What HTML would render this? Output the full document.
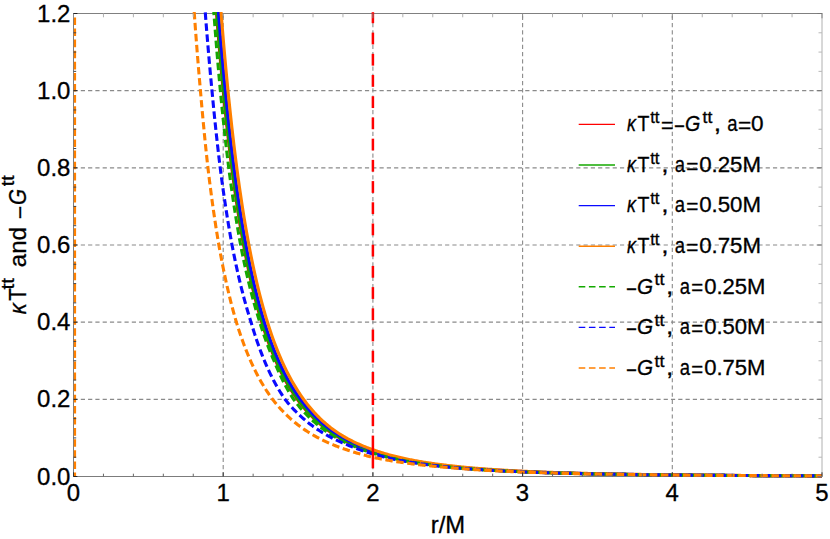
<!DOCTYPE html>
<html><head><meta charset="utf-8"><title>plot</title>
<style>html,body{margin:0;padding:0;background:#fff;}svg{display:block;}text{font-family:"Liberation Sans",sans-serif;fill:#000;font-kerning:none;stroke:#000;stroke-width:0.3px;}</style>
</head><body>
<svg width="830" height="539" viewBox="0 0 830 539">
<rect width="830" height="539" fill="#fff"/>
<defs><clipPath id="c"><rect x="73.50" y="12.00" width="749.00" height="466.00"/></clipPath></defs>
<line x1="73.50" y1="399.33" x2="822.00" y2="399.33" stroke="#8a8a8a" stroke-width="1.1" stroke-dasharray="4.2 3.086"/>
<line x1="73.50" y1="322.17" x2="822.00" y2="322.17" stroke="#8a8a8a" stroke-width="1.1" stroke-dasharray="4.2 3.086"/>
<line x1="73.50" y1="245.00" x2="822.00" y2="245.00" stroke="#8a8a8a" stroke-width="1.1" stroke-dasharray="4.2 3.086"/>
<line x1="73.50" y1="167.83" x2="822.00" y2="167.83" stroke="#8a8a8a" stroke-width="1.1" stroke-dasharray="4.2 3.086"/>
<line x1="73.50" y1="90.67" x2="822.00" y2="90.67" stroke="#8a8a8a" stroke-width="1.1" stroke-dasharray="4.2 3.086"/>
<line x1="223.20" y1="15.80" x2="223.20" y2="476.50" stroke="#8a8a8a" stroke-width="1.1" stroke-dasharray="4.2 3.047"/>
<line x1="372.90" y1="15.80" x2="372.90" y2="476.50" stroke="#8a8a8a" stroke-width="1.1" stroke-dasharray="4.2 3.047"/>
<line x1="522.60" y1="15.80" x2="522.60" y2="476.50" stroke="#8a8a8a" stroke-width="1.1" stroke-dasharray="4.2 3.047"/>
<line x1="672.30" y1="15.80" x2="672.30" y2="476.50" stroke="#8a8a8a" stroke-width="1.1" stroke-dasharray="4.2 3.047"/>
<line x1="73.00" y1="13.50" x2="822.50" y2="13.50" stroke="#808080" stroke-width="1"/>
<line x1="73.00" y1="476.50" x2="822.50" y2="476.50" stroke="#7c7c7c" stroke-width="1"/>
<line x1="73.50" y1="13.50" x2="73.50" y2="476.50" stroke="#7c7c7c" stroke-width="1"/>
<line x1="822.00" y1="13.50" x2="822.00" y2="476.50" stroke="#b0b0b0" stroke-width="1"/>
<g clip-path="url(#c)" fill="none" stroke-width="3.1" stroke-linejoin="round">
<path d="M207.26,-128.87 L208.33,-109.83 L209.40,-91.54 L210.48,-73.95 L211.55,-57.03 L212.62,-40.77 L213.69,-25.11 L214.77,-10.05 L215.84,4.46 L216.91,18.42 L217.99,31.88 L219.06,44.84 L220.13,57.34 L221.20,69.38 L222.28,81.00 L223.35,92.21 L224.42,103.02 L225.50,113.45 L226.57,123.52 L227.64,133.25 L228.71,142.64 L229.79,151.71 L230.86,160.48 L231.93,168.95 L233.01,177.15 L234.08,185.07 L235.15,192.73 L236.22,200.14 L237.30,207.31 L238.37,214.24 L239.44,220.96 L240.52,227.46 L241.59,233.76 L242.66,239.86 L243.73,245.77 L244.81,251.50 L245.88,257.05 L246.95,262.43 L248.03,267.64 L249.10,272.70 L250.17,277.60 L251.24,282.36 L252.32,286.98 L253.39,291.46 L254.46,295.81 L255.54,300.03 L256.61,304.13 L257.68,308.11 L258.75,311.98 L259.83,315.74 L260.90,319.39 L261.97,322.93 L263.05,326.38 L264.12,329.73 L265.19,332.99 L266.26,336.16 L267.34,339.24 L268.41,342.24 L269.48,345.15 L270.56,347.99 L271.63,350.75 L272.70,353.44 L273.77,356.05 L274.85,358.60 L275.92,361.08 L276.99,363.50 L278.07,365.85 L279.14,368.14 L280.21,370.37 L281.28,372.55 L282.36,374.67 L283.43,376.73 L284.50,378.74 L285.57,380.71 L286.65,382.62 L287.72,384.49 L288.79,386.31 L289.87,388.08 L290.94,389.82 L292.01,391.51 L293.08,393.16 L294.16,394.76 L295.23,396.34 L296.30,397.87 L297.38,399.36 L298.45,400.83 L299.52,402.25 L300.59,403.65 L301.67,405.01 L302.74,406.33 L303.81,407.63 L304.89,408.90 L305.96,410.14 L307.03,411.35 L308.10,412.54 L309.18,413.69 L310.25,414.82 L311.32,415.93 L312.40,417.01 L313.47,418.07 L314.54,419.10 L315.61,420.11 L316.69,421.10 L317.76,422.07 L318.83,423.01 L319.91,423.94 L320.98,424.84 L322.05,425.73 L323.12,426.60 L324.20,427.44 L325.27,428.28 L326.34,429.09 L327.42,429.89 L328.49,430.66 L329.56,431.43 L330.63,432.18 L331.71,432.91 L332.78,433.62 L333.85,434.33 L334.93,435.01 L336.00,435.69 L337.07,436.35 L338.14,437.00 L339.22,437.63 L340.29,438.25 L341.36,438.86 L342.44,439.46 L343.51,440.04 L344.58,440.62 L345.65,441.18 L346.73,441.73 L347.80,442.27 L348.87,442.80 L349.95,443.32 L351.02,443.83 L352.09,444.33 L353.16,444.82 L354.24,445.30 L355.31,445.78 L356.38,446.24 L357.46,446.70 L358.53,447.14 L359.60,447.58 L360.67,448.01 L361.75,448.43 L362.82,448.85 L363.89,449.25 L364.97,449.65 L366.04,450.04 L367.11,450.43 L368.18,450.80 L369.26,451.18 L370.33,451.54 L371.40,451.90 L372.48,452.25 L373.55,452.59 L374.62,452.93 L375.69,453.27 L376.77,453.59 L377.84,453.91 L378.91,454.23 L379.99,454.54 L381.06,454.84 L382.13,455.14 L383.20,455.44 L384.28,455.73 L385.35,456.01 L386.42,456.29 L387.50,456.57 L388.57,456.84 L389.64,457.10 L390.71,457.36 L391.79,457.62 L392.86,457.87 L393.93,458.12 L395.01,458.36 L396.08,458.60 L397.15,458.84 L398.22,459.07 L399.30,459.30 L400.37,459.53 L401.44,459.75 L402.52,459.96 L403.59,460.18 L404.66,460.39 L405.73,460.60 L406.81,460.80 L407.88,461.00 L408.95,461.20 L410.03,461.39 L411.10,461.58 L412.17,461.77 L413.24,461.96 L414.32,462.14 L415.39,462.32 L416.46,462.49 L417.54,462.67 L418.61,462.84 L419.68,463.01 L420.75,463.17 L421.83,463.34 L422.90,463.50 L423.97,463.66 L425.05,463.81 L426.12,463.97 L427.19,464.12 L428.26,464.27 L429.34,464.41 L430.41,464.56 L431.48,464.70 L432.56,464.84 L433.63,464.98 L434.70,465.12 L435.77,465.25 L436.85,465.38 L437.92,465.51 L438.99,465.64 L440.07,465.77 L441.14,465.89 L442.21,466.02 L443.28,466.14 L444.36,466.26 L445.43,466.37 L446.50,466.49 L447.58,466.60 L448.65,466.72 L449.72,466.83 L450.79,466.94 L451.87,467.05 L452.94,467.15 L454.01,467.26 L455.09,467.36 L456.16,467.46 L457.23,467.56 L458.30,467.66 L459.38,467.76 L460.45,467.86 L461.52,467.95 L462.60,468.05 L463.67,468.14 L464.74,468.23 L465.81,468.32 L466.89,468.41 L467.96,468.50 L469.03,468.58 L470.11,468.67 L471.18,468.75 L472.25,468.84 L473.32,468.92 L474.40,469.00 L475.47,469.08 L476.54,469.16 L477.62,469.23 L478.69,469.31 L479.76,469.39 L480.83,469.46 L481.91,469.54 L482.98,469.61 L484.05,469.68 L485.13,469.75 L486.20,469.82 L487.27,469.89 L488.34,469.96 L489.42,470.02 L490.49,470.09 L491.56,470.16 L492.64,470.22 L493.71,470.29 L494.78,470.35 L495.85,470.41 L496.93,470.47 L498.00,470.53 L499.07,470.59 L500.14,470.65 L501.22,470.71 L502.29,470.77 L503.36,470.83 L504.44,470.88 L505.51,470.94 L506.58,470.99 L507.65,471.05 L508.73,471.10 L509.80,471.15 L510.87,471.20 L511.95,471.26 L513.02,471.31 L514.09,471.36 L515.16,471.41 L516.24,471.46 L517.31,471.51 L518.38,471.55 L519.46,471.60 L520.53,471.65 L521.60,471.69 L522.67,471.74 L523.75,471.79 L524.82,471.83 L525.89,471.87 L526.97,471.92 L528.04,471.96 L529.11,472.00 L530.18,472.05 L531.26,472.09 L532.33,472.13 L533.40,472.17 L534.48,472.21 L535.55,472.25 L536.62,472.29 L537.69,472.33 L538.77,472.36 L539.84,472.40 L540.91,472.44 L541.99,472.48 L543.06,472.51 L544.13,472.55 L545.20,472.59 L546.28,472.62 L547.35,472.66 L548.42,472.69 L549.50,472.73 L550.57,472.76 L551.64,472.79 L552.71,472.83 L553.79,472.86 L554.86,472.89 L555.93,472.92 L557.01,472.95 L558.08,472.99 L559.15,473.02 L560.22,473.05 L561.30,473.08 L562.37,473.11 L563.44,473.14 L564.52,473.17 L565.59,473.20 L566.66,473.22 L567.73,473.25 L568.81,473.28 L569.88,473.31 L570.95,473.34 L572.03,473.36 L573.10,473.39 L574.17,473.42 L575.24,473.44 L576.32,473.47 L577.39,473.49 L578.46,473.52 L579.54,473.54 L580.61,473.57 L581.68,473.59 L582.75,473.62 L583.83,473.64 L584.90,473.67 L585.97,473.69 L587.05,473.71 L588.12,473.74 L589.19,473.76 L590.26,473.78 L591.34,473.81 L592.41,473.83 L593.48,473.85 L594.56,473.87 L595.63,473.89 L596.70,473.91 L597.77,473.94 L598.85,473.96 L599.92,473.98 L600.99,474.00 L602.07,474.02 L603.14,474.04 L604.21,474.06 L605.28,474.08 L606.36,474.10 L607.43,474.12 L608.50,474.13 L609.58,474.15 L610.65,474.17 L611.72,474.19 L612.79,474.21 L613.87,474.23 L614.94,474.25 L616.01,474.26 L617.09,474.28 L618.16,474.30 L619.23,474.32 L620.30,474.33 L621.38,474.35 L622.45,474.37 L623.52,474.38 L624.60,474.40 L625.67,474.42 L626.74,474.43 L627.81,474.45 L628.89,474.46 L629.96,474.48 L631.03,474.49 L632.11,474.51 L633.18,474.53 L634.25,474.54 L635.32,474.56 L636.40,474.57 L637.47,474.58 L638.54,474.60 L639.62,474.61 L640.69,474.63 L641.76,474.64 L642.83,474.66 L643.91,474.67 L644.98,474.68 L646.05,474.70 L647.13,474.71 L648.20,474.72 L649.27,474.74 L650.34,474.75 L651.42,474.76 L652.49,474.78 L653.56,474.79 L654.64,474.80 L655.71,474.81 L656.78,474.83 L657.85,474.84 L658.93,474.85 L660.00,474.86 L661.07,474.87 L662.15,474.89 L663.22,474.90 L664.29,474.91 L665.36,474.92 L666.44,474.93 L667.51,474.94 L668.58,474.95 L669.66,474.97 L670.73,474.98 L671.80,474.99 L672.87,475.00 L673.95,475.01 L675.02,475.02 L676.09,475.03 L677.17,475.04 L678.24,475.05 L679.31,475.06 L680.38,475.07 L681.46,475.08 L682.53,475.09 L683.60,475.10 L684.68,475.11 L685.75,475.12 L686.82,475.13 L687.89,475.14 L688.97,475.15 L690.04,475.16 L691.11,475.17 L692.19,475.18 L693.26,475.19 L694.33,475.20 L695.40,475.20 L696.48,475.21 L697.55,475.22 L698.62,475.23 L699.70,475.24 L700.77,475.25 L701.84,475.26 L702.91,475.27 L703.99,475.27 L705.06,475.28 L706.13,475.29 L707.21,475.30 L708.28,475.31 L709.35,475.31 L710.42,475.32 L711.50,475.33 L712.57,475.34 L713.64,475.35 L714.71,475.35 L715.79,475.36 L716.86,475.37 L717.93,475.38 L719.01,475.38 L720.08,475.39 L721.15,475.40 L722.22,475.41 L723.30,475.41 L724.37,475.42 L725.44,475.43 L726.52,475.43 L727.59,475.44 L728.66,475.45 L729.73,475.46 L730.81,475.46 L731.88,475.47 L732.95,475.48 L734.03,475.48 L735.10,475.49 L736.17,475.50 L737.24,475.50 L738.32,475.51 L739.39,475.51 L740.46,475.52 L741.54,475.53 L742.61,475.53 L743.68,475.54 L744.75,475.55 L745.83,475.55 L746.90,475.56 L747.97,475.56 L749.05,475.57 L750.12,475.58 L751.19,475.58 L752.26,475.59 L753.34,475.59 L754.41,475.60 L755.48,475.60 L756.56,475.61 L757.63,475.62 L758.70,475.62 L759.77,475.63 L760.85,475.63 L761.92,475.64 L762.99,475.64 L764.07,475.65 L765.14,475.65 L766.21,475.66 L767.28,475.66 L768.36,475.67 L769.43,475.67 L770.50,475.68 L771.58,475.68 L772.65,475.69 L773.72,475.69 L774.79,475.70 L775.87,475.70 L776.94,475.71 L778.01,475.71 L779.09,475.72 L780.16,475.72 L781.23,475.73 L782.30,475.73 L783.38,475.74 L784.45,475.74 L785.52,475.75 L786.60,475.75 L787.67,475.76 L788.74,475.76 L789.81,475.76 L790.89,475.77 L791.96,475.77 L793.03,475.78 L794.11,475.78 L795.18,475.79 L796.25,475.79 L797.32,475.79 L798.40,475.80 L799.47,475.80 L800.54,475.81 L801.62,475.81 L802.69,475.81 L803.76,475.82 L804.83,475.82 L805.91,475.83 L806.98,475.83 L808.05,475.83 L809.13,475.84 L810.20,475.84 L811.27,475.85 L812.34,475.85 L813.42,475.85 L814.49,475.86 L815.56,475.86 L816.64,475.86 L817.71,475.87 L818.78,475.87 L819.85,475.88 L820.93,475.88 L822.00,475.88" stroke="#ff0000"/>
<path d="M207.26,-137.35 L208.33,-118.04 L209.40,-99.49 L210.48,-81.65 L211.55,-64.50 L212.62,-48.01 L213.69,-32.14 L214.77,-16.86 L215.84,-2.15 L216.91,12.01 L217.99,25.65 L219.06,38.80 L220.13,51.47 L221.20,63.68 L222.28,75.46 L223.35,86.83 L224.42,97.79 L225.50,108.37 L226.57,118.58 L227.64,128.44 L228.71,137.97 L229.79,147.17 L230.86,156.06 L231.93,164.65 L233.01,172.95 L234.08,180.99 L235.15,188.75 L236.22,196.27 L237.30,203.54 L238.37,210.57 L239.44,217.38 L240.52,223.98 L241.59,230.36 L242.66,236.55 L243.73,242.54 L244.81,248.35 L245.88,253.97 L246.95,259.43 L248.03,264.72 L249.10,269.85 L250.17,274.82 L251.24,279.64 L252.32,284.33 L253.39,288.87 L254.46,293.28 L255.54,297.56 L256.61,301.72 L257.68,305.76 L258.75,309.68 L259.83,313.49 L260.90,317.19 L261.97,320.78 L263.05,324.28 L264.12,327.68 L265.19,330.98 L266.26,334.19 L267.34,337.32 L268.41,340.36 L269.48,343.31 L270.56,346.19 L271.63,348.99 L272.70,351.72 L273.77,354.37 L274.85,356.95 L275.92,359.46 L276.99,361.91 L278.07,364.30 L279.14,366.62 L280.21,368.89 L281.28,371.09 L282.36,373.24 L283.43,375.33 L284.50,377.38 L285.57,379.37 L286.65,381.31 L287.72,383.20 L288.79,385.05 L289.87,386.85 L290.94,388.60 L292.01,390.32 L293.08,391.99 L294.16,393.62 L295.23,395.21 L296.30,396.77 L297.38,398.28 L298.45,399.77 L299.52,401.21 L300.59,402.63 L301.67,404.01 L302.74,405.35 L303.81,406.67 L304.89,407.96 L305.96,409.21 L307.03,410.44 L308.10,411.64 L309.18,412.81 L310.25,413.96 L311.32,415.08 L312.40,416.18 L313.47,417.25 L314.54,418.30 L315.61,419.32 L316.69,420.32 L317.76,421.30 L318.83,422.26 L319.91,423.20 L320.98,424.12 L322.05,425.02 L323.12,425.90 L324.20,426.76 L325.27,427.60 L326.34,428.43 L327.42,429.23 L328.49,430.02 L329.56,430.80 L330.63,431.55 L331.71,432.30 L332.78,433.02 L333.85,433.74 L334.93,434.43 L336.00,435.12 L337.07,435.79 L338.14,436.44 L339.22,437.09 L340.29,437.72 L341.36,438.33 L342.44,438.94 L343.51,439.53 L344.58,440.11 L345.65,440.69 L346.73,441.24 L347.80,441.79 L348.87,442.33 L349.95,442.86 L351.02,443.38 L352.09,443.88 L353.16,444.38 L354.24,444.87 L355.31,445.35 L356.38,445.82 L357.46,446.28 L358.53,446.73 L359.60,447.17 L360.67,447.61 L361.75,448.04 L362.82,448.46 L363.89,448.87 L364.97,449.27 L366.04,449.67 L367.11,450.06 L368.18,450.44 L369.26,450.82 L370.33,451.19 L371.40,451.55 L372.48,451.91 L373.55,452.26 L374.62,452.60 L375.69,452.94 L376.77,453.27 L377.84,453.60 L378.91,453.92 L379.99,454.23 L381.06,454.54 L382.13,454.84 L383.20,455.14 L384.28,455.44 L385.35,455.72 L386.42,456.01 L387.50,456.29 L388.57,456.56 L389.64,456.83 L390.71,457.09 L391.79,457.36 L392.86,457.61 L393.93,457.86 L395.01,458.11 L396.08,458.35 L397.15,458.59 L398.22,458.83 L399.30,459.06 L400.37,459.29 L401.44,459.51 L402.52,459.73 L403.59,459.95 L404.66,460.16 L405.73,460.37 L406.81,460.58 L407.88,460.78 L408.95,460.98 L410.03,461.18 L411.10,461.37 L412.17,461.56 L413.24,461.75 L414.32,461.94 L415.39,462.12 L416.46,462.30 L417.54,462.47 L418.61,462.65 L419.68,462.82 L420.75,462.99 L421.83,463.15 L422.90,463.32 L423.97,463.48 L425.05,463.64 L426.12,463.79 L427.19,463.94 L428.26,464.10 L429.34,464.24 L430.41,464.39 L431.48,464.54 L432.56,464.68 L433.63,464.82 L434.70,464.96 L435.77,465.09 L436.85,465.23 L437.92,465.36 L438.99,465.49 L440.07,465.62 L441.14,465.74 L442.21,465.87 L443.28,465.99 L444.36,466.11 L445.43,466.23 L446.50,466.35 L447.58,466.47 L448.65,466.58 L449.72,466.69 L450.79,466.80 L451.87,466.91 L452.94,467.02 L454.01,467.13 L455.09,467.23 L456.16,467.34 L457.23,467.44 L458.30,467.54 L459.38,467.64 L460.45,467.74 L461.52,467.83 L462.60,467.93 L463.67,468.02 L464.74,468.11 L465.81,468.21 L466.89,468.30 L467.96,468.38 L469.03,468.47 L470.11,468.56 L471.18,468.64 L472.25,468.73 L473.32,468.81 L474.40,468.89 L475.47,468.97 L476.54,469.05 L477.62,469.13 L478.69,469.21 L479.76,469.29 L480.83,469.36 L481.91,469.44 L482.98,469.51 L484.05,469.58 L485.13,469.66 L486.20,469.73 L487.27,469.80 L488.34,469.87 L489.42,469.93 L490.49,470.00 L491.56,470.07 L492.64,470.13 L493.71,470.20 L494.78,470.26 L495.85,470.33 L496.93,470.39 L498.00,470.45 L499.07,470.51 L500.14,470.57 L501.22,470.63 L502.29,470.69 L503.36,470.75 L504.44,470.80 L505.51,470.86 L506.58,470.91 L507.65,470.97 L508.73,471.02 L509.80,471.08 L510.87,471.13 L511.95,471.18 L513.02,471.23 L514.09,471.29 L515.16,471.34 L516.24,471.39 L517.31,471.44 L518.38,471.48 L519.46,471.53 L520.53,471.58 L521.60,471.63 L522.67,471.67 L523.75,471.72 L524.82,471.76 L525.89,471.81 L526.97,471.85 L528.04,471.90 L529.11,471.94 L530.18,471.98 L531.26,472.03 L532.33,472.07 L533.40,472.11 L534.48,472.15 L535.55,472.19 L536.62,472.23 L537.69,472.27 L538.77,472.31 L539.84,472.35 L540.91,472.38 L541.99,472.42 L543.06,472.46 L544.13,472.50 L545.20,472.53 L546.28,472.57 L547.35,472.60 L548.42,472.64 L549.50,472.67 L550.57,472.71 L551.64,472.74 L552.71,472.77 L553.79,472.81 L554.86,472.84 L555.93,472.87 L557.01,472.90 L558.08,472.94 L559.15,472.97 L560.22,473.00 L561.30,473.03 L562.37,473.06 L563.44,473.09 L564.52,473.12 L565.59,473.15 L566.66,473.18 L567.73,473.21 L568.81,473.24 L569.88,473.26 L570.95,473.29 L572.03,473.32 L573.10,473.35 L574.17,473.37 L575.24,473.40 L576.32,473.43 L577.39,473.45 L578.46,473.48 L579.54,473.50 L580.61,473.53 L581.68,473.55 L582.75,473.58 L583.83,473.60 L584.90,473.63 L585.97,473.65 L587.05,473.68 L588.12,473.70 L589.19,473.72 L590.26,473.74 L591.34,473.77 L592.41,473.79 L593.48,473.81 L594.56,473.83 L595.63,473.86 L596.70,473.88 L597.77,473.90 L598.85,473.92 L599.92,473.94 L600.99,473.96 L602.07,473.98 L603.14,474.00 L604.21,474.02 L605.28,474.04 L606.36,474.06 L607.43,474.08 L608.50,474.10 L609.58,474.12 L610.65,474.14 L611.72,474.16 L612.79,474.18 L613.87,474.20 L614.94,474.21 L616.01,474.23 L617.09,474.25 L618.16,474.27 L619.23,474.28 L620.30,474.30 L621.38,474.32 L622.45,474.34 L623.52,474.35 L624.60,474.37 L625.67,474.39 L626.74,474.40 L627.81,474.42 L628.89,474.43 L629.96,474.45 L631.03,474.47 L632.11,474.48 L633.18,474.50 L634.25,474.51 L635.32,474.53 L636.40,474.54 L637.47,474.56 L638.54,474.57 L639.62,474.59 L640.69,474.60 L641.76,474.62 L642.83,474.63 L643.91,474.64 L644.98,474.66 L646.05,474.67 L647.13,474.69 L648.20,474.70 L649.27,474.71 L650.34,474.73 L651.42,474.74 L652.49,474.75 L653.56,474.76 L654.64,474.78 L655.71,474.79 L656.78,474.80 L657.85,474.81 L658.93,474.83 L660.00,474.84 L661.07,474.85 L662.15,474.86 L663.22,474.88 L664.29,474.89 L665.36,474.90 L666.44,474.91 L667.51,474.92 L668.58,474.93 L669.66,474.94 L670.73,474.96 L671.80,474.97 L672.87,474.98 L673.95,474.99 L675.02,475.00 L676.09,475.01 L677.17,475.02 L678.24,475.03 L679.31,475.04 L680.38,475.05 L681.46,475.06 L682.53,475.07 L683.60,475.08 L684.68,475.09 L685.75,475.10 L686.82,475.11 L687.89,475.12 L688.97,475.13 L690.04,475.14 L691.11,475.15 L692.19,475.16 L693.26,475.17 L694.33,475.18 L695.40,475.19 L696.48,475.20 L697.55,475.20 L698.62,475.21 L699.70,475.22 L700.77,475.23 L701.84,475.24 L702.91,475.25 L703.99,475.26 L705.06,475.26 L706.13,475.27 L707.21,475.28 L708.28,475.29 L709.35,475.30 L710.42,475.31 L711.50,475.31 L712.57,475.32 L713.64,475.33 L714.71,475.34 L715.79,475.35 L716.86,475.35 L717.93,475.36 L719.01,475.37 L720.08,475.38 L721.15,475.38 L722.22,475.39 L723.30,475.40 L724.37,475.41 L725.44,475.41 L726.52,475.42 L727.59,475.43 L728.66,475.43 L729.73,475.44 L730.81,475.45 L731.88,475.45 L732.95,475.46 L734.03,475.47 L735.10,475.47 L736.17,475.48 L737.24,475.49 L738.32,475.49 L739.39,475.50 L740.46,475.51 L741.54,475.51 L742.61,475.52 L743.68,475.53 L744.75,475.53 L745.83,475.54 L746.90,475.54 L747.97,475.55 L749.05,475.56 L750.12,475.56 L751.19,475.57 L752.26,475.57 L753.34,475.58 L754.41,475.59 L755.48,475.59 L756.56,475.60 L757.63,475.60 L758.70,475.61 L759.77,475.61 L760.85,475.62 L761.92,475.63 L762.99,475.63 L764.07,475.64 L765.14,475.64 L766.21,475.65 L767.28,475.65 L768.36,475.66 L769.43,475.66 L770.50,475.67 L771.58,475.67 L772.65,475.68 L773.72,475.68 L774.79,475.69 L775.87,475.69 L776.94,475.70 L778.01,475.70 L779.09,475.71 L780.16,475.71 L781.23,475.72 L782.30,475.72 L783.38,475.73 L784.45,475.73 L785.52,475.74 L786.60,475.74 L787.67,475.74 L788.74,475.75 L789.81,475.75 L790.89,475.76 L791.96,475.76 L793.03,475.77 L794.11,475.77 L795.18,475.78 L796.25,475.78 L797.32,475.78 L798.40,475.79 L799.47,475.79 L800.54,475.80 L801.62,475.80 L802.69,475.81 L803.76,475.81 L804.83,475.81 L805.91,475.82 L806.98,475.82 L808.05,475.83 L809.13,475.83 L810.20,475.83 L811.27,475.84 L812.34,475.84 L813.42,475.84 L814.49,475.85 L815.56,475.85 L816.64,475.86 L817.71,475.86 L818.78,475.86 L819.85,475.87 L820.93,475.87 L822.00,475.87" stroke="#14a900"/>
<path d="M209.40,-124.48 L210.48,-105.87 L211.55,-87.98 L212.62,-70.77 L213.69,-54.21 L214.77,-38.27 L215.84,-22.92 L216.91,-8.14 L217.99,6.09 L219.06,19.81 L220.13,33.03 L221.20,45.77 L222.28,58.06 L223.35,69.92 L224.42,81.36 L225.50,92.39 L226.57,103.05 L227.64,113.34 L228.71,123.28 L229.79,132.88 L230.86,142.15 L231.93,151.12 L233.01,159.78 L234.08,168.16 L235.15,176.27 L236.22,184.11 L237.30,191.69 L238.37,199.03 L239.44,206.14 L240.52,213.02 L241.59,219.68 L242.66,226.14 L243.73,232.39 L244.81,238.45 L245.88,244.32 L246.95,250.01 L248.03,255.53 L249.10,260.88 L250.17,266.07 L251.24,271.10 L252.32,275.99 L253.39,280.73 L254.46,285.33 L255.54,289.80 L256.61,294.13 L257.68,298.35 L258.75,302.44 L259.83,306.41 L260.90,310.27 L261.97,314.03 L263.05,317.67 L264.12,321.22 L265.19,324.67 L266.26,328.02 L267.34,331.28 L268.41,334.45 L269.48,337.53 L270.56,340.54 L271.63,343.46 L272.70,346.30 L273.77,349.07 L274.85,351.76 L275.92,354.39 L276.99,356.94 L278.07,359.43 L279.14,361.85 L280.21,364.22 L281.28,366.52 L282.36,368.76 L283.43,370.94 L284.50,373.08 L285.57,375.15 L286.65,377.18 L287.72,379.15 L288.79,381.08 L289.87,382.96 L290.94,384.79 L292.01,386.58 L293.08,388.32 L294.16,390.02 L295.23,391.69 L296.30,393.31 L297.38,394.89 L298.45,396.44 L299.52,397.95 L300.59,399.42 L301.67,400.86 L302.74,402.27 L303.81,403.64 L304.89,404.98 L305.96,406.29 L307.03,407.57 L308.10,408.83 L309.18,410.05 L310.25,411.25 L311.32,412.42 L312.40,413.56 L313.47,414.68 L314.54,415.77 L315.61,416.84 L316.69,417.89 L317.76,418.91 L318.83,419.91 L319.91,420.89 L320.98,421.85 L322.05,422.78 L323.12,423.70 L324.20,424.60 L325.27,425.48 L326.34,426.34 L327.42,427.18 L328.49,428.01 L329.56,428.81 L330.63,429.60 L331.71,430.38 L332.78,431.14 L333.85,431.88 L334.93,432.61 L336.00,433.32 L337.07,434.02 L338.14,434.71 L339.22,435.38 L340.29,436.03 L341.36,436.68 L342.44,437.31 L343.51,437.93 L344.58,438.54 L345.65,439.13 L346.73,439.71 L347.80,440.29 L348.87,440.85 L349.95,441.40 L351.02,441.94 L352.09,442.47 L353.16,442.99 L354.24,443.50 L355.31,444.00 L356.38,444.49 L357.46,444.97 L358.53,445.44 L359.60,445.90 L360.67,446.36 L361.75,446.80 L362.82,447.24 L363.89,447.67 L364.97,448.09 L366.04,448.51 L367.11,448.91 L368.18,449.31 L369.26,449.71 L370.33,450.09 L371.40,450.47 L372.48,450.84 L373.55,451.21 L374.62,451.57 L375.69,451.92 L376.77,452.26 L377.84,452.60 L378.91,452.94 L379.99,453.27 L381.06,453.59 L382.13,453.91 L383.20,454.22 L384.28,454.52 L385.35,454.82 L386.42,455.12 L387.50,455.41 L388.57,455.70 L389.64,455.98 L390.71,456.25 L391.79,456.52 L392.86,456.79 L393.93,457.05 L395.01,457.31 L396.08,457.57 L397.15,457.82 L398.22,458.06 L399.30,458.30 L400.37,458.54 L401.44,458.78 L402.52,459.01 L403.59,459.23 L404.66,459.45 L405.73,459.67 L406.81,459.89 L407.88,460.10 L408.95,460.31 L410.03,460.52 L411.10,460.72 L412.17,460.92 L413.24,461.11 L414.32,461.31 L415.39,461.50 L416.46,461.68 L417.54,461.87 L418.61,462.05 L419.68,462.23 L420.75,462.40 L421.83,462.57 L422.90,462.74 L423.97,462.91 L425.05,463.08 L426.12,463.24 L427.19,463.40 L428.26,463.56 L429.34,463.71 L430.41,463.87 L431.48,464.02 L432.56,464.17 L433.63,464.31 L434.70,464.46 L435.77,464.60 L436.85,464.74 L437.92,464.88 L438.99,465.01 L440.07,465.15 L441.14,465.28 L442.21,465.41 L443.28,465.54 L444.36,465.66 L445.43,465.79 L446.50,465.91 L447.58,466.03 L448.65,466.15 L449.72,466.27 L450.79,466.38 L451.87,466.50 L452.94,466.61 L454.01,466.72 L455.09,466.83 L456.16,466.94 L457.23,467.04 L458.30,467.15 L459.38,467.25 L460.45,467.36 L461.52,467.46 L462.60,467.56 L463.67,467.65 L464.74,467.75 L465.81,467.85 L466.89,467.94 L467.96,468.03 L469.03,468.12 L470.11,468.21 L471.18,468.30 L472.25,468.39 L473.32,468.48 L474.40,468.56 L475.47,468.65 L476.54,468.73 L477.62,468.81 L478.69,468.89 L479.76,468.97 L480.83,469.05 L481.91,469.13 L482.98,469.21 L484.05,469.28 L485.13,469.36 L486.20,469.43 L487.27,469.51 L488.34,469.58 L489.42,469.65 L490.49,469.72 L491.56,469.79 L492.64,469.86 L493.71,469.92 L494.78,469.99 L495.85,470.06 L496.93,470.12 L498.00,470.19 L499.07,470.25 L500.14,470.31 L501.22,470.37 L502.29,470.44 L503.36,470.50 L504.44,470.56 L505.51,470.61 L506.58,470.67 L507.65,470.73 L508.73,470.79 L509.80,470.84 L510.87,470.90 L511.95,470.95 L513.02,471.01 L514.09,471.06 L515.16,471.11 L516.24,471.16 L517.31,471.22 L518.38,471.27 L519.46,471.32 L520.53,471.37 L521.60,471.42 L522.67,471.46 L523.75,471.51 L524.82,471.56 L525.89,471.61 L526.97,471.65 L528.04,471.70 L529.11,471.74 L530.18,471.79 L531.26,471.83 L532.33,471.87 L533.40,471.92 L534.48,471.96 L535.55,472.00 L536.62,472.04 L537.69,472.08 L538.77,472.13 L539.84,472.17 L540.91,472.20 L541.99,472.24 L543.06,472.28 L544.13,472.32 L545.20,472.36 L546.28,472.40 L547.35,472.43 L548.42,472.47 L549.50,472.51 L550.57,472.54 L551.64,472.58 L552.71,472.61 L553.79,472.65 L554.86,472.68 L555.93,472.72 L557.01,472.75 L558.08,472.78 L559.15,472.81 L560.22,472.85 L561.30,472.88 L562.37,472.91 L563.44,472.94 L564.52,472.97 L565.59,473.00 L566.66,473.03 L567.73,473.06 L568.81,473.09 L569.88,473.12 L570.95,473.15 L572.03,473.18 L573.10,473.21 L574.17,473.24 L575.24,473.27 L576.32,473.29 L577.39,473.32 L578.46,473.35 L579.54,473.37 L580.61,473.40 L581.68,473.43 L582.75,473.45 L583.83,473.48 L584.90,473.50 L585.97,473.53 L587.05,473.55 L588.12,473.58 L589.19,473.60 L590.26,473.63 L591.34,473.65 L592.41,473.67 L593.48,473.70 L594.56,473.72 L595.63,473.74 L596.70,473.76 L597.77,473.79 L598.85,473.81 L599.92,473.83 L600.99,473.85 L602.07,473.87 L603.14,473.89 L604.21,473.92 L605.28,473.94 L606.36,473.96 L607.43,473.98 L608.50,474.00 L609.58,474.02 L610.65,474.04 L611.72,474.06 L612.79,474.08 L613.87,474.10 L614.94,474.11 L616.01,474.13 L617.09,474.15 L618.16,474.17 L619.23,474.19 L620.30,474.21 L621.38,474.22 L622.45,474.24 L623.52,474.26 L624.60,474.28 L625.67,474.29 L626.74,474.31 L627.81,474.33 L628.89,474.35 L629.96,474.36 L631.03,474.38 L632.11,474.39 L633.18,474.41 L634.25,474.43 L635.32,474.44 L636.40,474.46 L637.47,474.47 L638.54,474.49 L639.62,474.50 L640.69,474.52 L641.76,474.53 L642.83,474.55 L643.91,474.56 L644.98,474.58 L646.05,474.59 L647.13,474.61 L648.20,474.62 L649.27,474.63 L650.34,474.65 L651.42,474.66 L652.49,474.68 L653.56,474.69 L654.64,474.70 L655.71,474.72 L656.78,474.73 L657.85,474.74 L658.93,474.75 L660.00,474.77 L661.07,474.78 L662.15,474.79 L663.22,474.80 L664.29,474.82 L665.36,474.83 L666.44,474.84 L667.51,474.85 L668.58,474.87 L669.66,474.88 L670.73,474.89 L671.80,474.90 L672.87,474.91 L673.95,474.92 L675.02,474.93 L676.09,474.95 L677.17,474.96 L678.24,474.97 L679.31,474.98 L680.38,474.99 L681.46,475.00 L682.53,475.01 L683.60,475.02 L684.68,475.03 L685.75,475.04 L686.82,475.05 L687.89,475.06 L688.97,475.07 L690.04,475.08 L691.11,475.09 L692.19,475.10 L693.26,475.11 L694.33,475.12 L695.40,475.13 L696.48,475.14 L697.55,475.15 L698.62,475.16 L699.70,475.17 L700.77,475.18 L701.84,475.18 L702.91,475.19 L703.99,475.20 L705.06,475.21 L706.13,475.22 L707.21,475.23 L708.28,475.24 L709.35,475.25 L710.42,475.25 L711.50,475.26 L712.57,475.27 L713.64,475.28 L714.71,475.29 L715.79,475.30 L716.86,475.30 L717.93,475.31 L719.01,475.32 L720.08,475.33 L721.15,475.33 L722.22,475.34 L723.30,475.35 L724.37,475.36 L725.44,475.37 L726.52,475.37 L727.59,475.38 L728.66,475.39 L729.73,475.39 L730.81,475.40 L731.88,475.41 L732.95,475.42 L734.03,475.42 L735.10,475.43 L736.17,475.44 L737.24,475.44 L738.32,475.45 L739.39,475.46 L740.46,475.46 L741.54,475.47 L742.61,475.48 L743.68,475.48 L744.75,475.49 L745.83,475.50 L746.90,475.50 L747.97,475.51 L749.05,475.52 L750.12,475.52 L751.19,475.53 L752.26,475.53 L753.34,475.54 L754.41,475.55 L755.48,475.55 L756.56,475.56 L757.63,475.56 L758.70,475.57 L759.77,475.58 L760.85,475.58 L761.92,475.59 L762.99,475.59 L764.07,475.60 L765.14,475.60 L766.21,475.61 L767.28,475.62 L768.36,475.62 L769.43,475.63 L770.50,475.63 L771.58,475.64 L772.65,475.64 L773.72,475.65 L774.79,475.65 L775.87,475.66 L776.94,475.66 L778.01,475.67 L779.09,475.67 L780.16,475.68 L781.23,475.68 L782.30,475.69 L783.38,475.69 L784.45,475.70 L785.52,475.70 L786.60,475.71 L787.67,475.71 L788.74,475.72 L789.81,475.72 L790.89,475.73 L791.96,475.73 L793.03,475.74 L794.11,475.74 L795.18,475.74 L796.25,475.75 L797.32,475.75 L798.40,475.76 L799.47,475.76 L800.54,475.77 L801.62,475.77 L802.69,475.77 L803.76,475.78 L804.83,475.78 L805.91,475.79 L806.98,475.79 L808.05,475.80 L809.13,475.80 L810.20,475.80 L811.27,475.81 L812.34,475.81 L813.42,475.82 L814.49,475.82 L815.56,475.82 L816.64,475.83 L817.71,475.83 L818.78,475.84 L819.85,475.84 L820.93,475.84 L822.00,475.85" stroke="#0a0aff"/>
<path d="M211.55,-131.14 L212.62,-112.42 L213.69,-94.42 L214.77,-77.10 L215.84,-60.43 L216.91,-44.38 L217.99,-28.92 L219.06,-14.03 L220.13,0.32 L221.20,14.15 L222.28,27.49 L223.35,40.34 L224.42,52.67 L225.50,64.58 L226.57,76.07 L227.64,87.16 L228.71,97.88 L229.79,108.22 L230.86,118.22 L231.93,127.88 L233.01,137.22 L234.08,146.25 L235.15,154.98 L236.22,163.43 L237.30,171.60 L238.37,179.50 L239.44,187.16 L240.52,194.56 L241.59,201.74 L242.66,208.68 L243.73,215.41 L244.81,221.93 L245.88,228.25 L246.95,234.37 L248.03,240.31 L249.10,246.07 L250.17,251.65 L251.24,257.06 L252.32,262.32 L253.39,267.42 L254.46,272.37 L255.54,277.19 L256.61,281.86 L257.68,286.39 L258.75,290.80 L259.83,295.08 L260.90,299.23 L261.97,303.27 L263.05,307.20 L264.12,311.01 L265.19,314.72 L266.26,318.32 L267.34,321.83 L268.41,325.24 L269.48,328.56 L270.56,331.78 L271.63,334.92 L272.70,337.98 L273.77,340.95 L274.85,343.84 L275.92,346.66 L276.99,349.41 L278.07,352.08 L279.14,354.68 L280.21,357.21 L281.28,359.68 L282.36,362.09 L283.43,364.43 L284.50,366.72 L285.57,368.95 L286.65,371.12 L287.72,373.24 L288.79,375.30 L289.87,377.31 L290.94,379.28 L292.01,381.19 L293.08,383.06 L294.16,384.89 L295.23,386.67 L296.30,388.40 L297.38,390.10 L298.45,391.76 L299.52,393.40 L300.59,395.00 L301.67,396.56 L302.74,398.09 L303.81,399.58 L304.89,401.04 L305.96,402.46 L307.03,403.85 L308.10,405.20 L309.18,406.53 L310.25,407.82 L311.32,409.09 L312.40,410.33 L313.47,411.54 L314.54,412.72 L315.61,413.87 L316.69,415.00 L317.76,416.11 L318.83,417.19 L319.91,418.24 L320.98,419.28 L322.05,420.29 L323.12,421.28 L324.20,422.24 L325.27,423.19 L326.34,424.12 L327.42,425.02 L328.49,425.91 L329.56,426.78 L330.63,427.63 L331.71,428.46 L332.78,429.28 L333.85,430.07 L334.93,430.85 L336.00,431.60 L337.07,432.32 L338.14,433.02 L339.22,433.70 L340.29,434.38 L341.36,435.04 L342.44,435.69 L343.51,436.32 L344.58,436.94 L345.65,437.55 L346.73,438.15 L347.80,438.74 L348.87,439.31 L349.95,439.88 L351.02,440.43 L352.09,440.97 L353.16,441.51 L354.24,442.03 L355.31,442.54 L356.38,443.05 L357.46,443.54 L358.53,444.02 L359.60,444.50 L360.67,444.97 L361.75,445.43 L362.82,445.88 L363.89,446.32 L364.97,446.75 L366.04,447.18 L367.11,447.60 L368.18,448.01 L369.26,448.41 L370.33,448.81 L371.40,449.20 L372.48,449.58 L373.55,449.96 L374.62,450.33 L375.69,450.70 L376.77,451.06 L377.84,451.41 L378.91,451.76 L379.99,452.10 L381.06,452.44 L382.13,452.77 L383.20,453.09 L384.28,453.41 L385.35,453.72 L386.42,454.03 L387.50,454.33 L388.57,454.63 L389.64,454.92 L390.71,455.21 L391.79,455.50 L392.86,455.77 L393.93,456.05 L395.01,456.32 L396.08,456.58 L397.15,456.84 L398.22,457.10 L399.30,457.35 L400.37,457.60 L401.44,457.84 L402.52,458.08 L403.59,458.32 L404.66,458.55 L405.73,458.78 L406.81,459.00 L407.88,459.22 L408.95,459.44 L410.03,459.65 L411.10,459.87 L412.17,460.07 L413.24,460.28 L414.32,460.48 L415.39,460.68 L416.46,460.87 L417.54,461.06 L418.61,461.25 L419.68,461.44 L420.75,461.62 L421.83,461.80 L422.90,461.98 L423.97,462.16 L425.05,462.33 L426.12,462.50 L427.19,462.67 L428.26,462.83 L429.34,462.99 L430.41,463.15 L431.48,463.31 L432.56,463.47 L433.63,463.62 L434.70,463.77 L435.77,463.92 L436.85,464.06 L437.92,464.21 L438.99,464.35 L440.07,464.49 L441.14,464.63 L442.21,464.77 L443.28,464.90 L444.36,465.03 L445.43,465.16 L446.50,465.29 L447.58,465.42 L448.65,465.54 L449.72,465.67 L450.79,465.79 L451.87,465.91 L452.94,466.03 L454.01,466.15 L455.09,466.27 L456.16,466.38 L457.23,466.50 L458.30,466.61 L459.38,466.72 L460.45,466.83 L461.52,466.93 L462.60,467.04 L463.67,467.14 L464.74,467.25 L465.81,467.35 L466.89,467.45 L467.96,467.54 L469.03,467.64 L470.11,467.74 L471.18,467.83 L472.25,467.93 L473.32,468.02 L474.40,468.11 L475.47,468.20 L476.54,468.29 L477.62,468.37 L478.69,468.46 L479.76,468.55 L480.83,468.63 L481.91,468.71 L482.98,468.79 L484.05,468.87 L485.13,468.95 L486.20,469.03 L487.27,469.11 L488.34,469.19 L489.42,469.26 L490.49,469.34 L491.56,469.41 L492.64,469.48 L493.71,469.55 L494.78,469.63 L495.85,469.70 L496.93,469.76 L498.00,469.83 L499.07,469.90 L500.14,469.97 L501.22,470.03 L502.29,470.10 L503.36,470.16 L504.44,470.22 L505.51,470.29 L506.58,470.35 L507.65,470.41 L508.73,470.47 L509.80,470.53 L510.87,470.59 L511.95,470.65 L513.02,470.70 L514.09,470.76 L515.16,470.81 L516.24,470.87 L517.31,470.92 L518.38,470.98 L519.46,471.03 L520.53,471.08 L521.60,471.14 L522.67,471.19 L523.75,471.24 L524.82,471.29 L525.89,471.34 L526.97,471.39 L528.04,471.44 L529.11,471.48 L530.18,471.53 L531.26,471.58 L532.33,471.62 L533.40,471.67 L534.48,471.71 L535.55,471.76 L536.62,471.80 L537.69,471.85 L538.77,471.89 L539.84,471.93 L540.91,471.97 L541.99,472.02 L543.06,472.06 L544.13,472.10 L545.20,472.14 L546.28,472.18 L547.35,472.22 L548.42,472.25 L549.50,472.29 L550.57,472.33 L551.64,472.37 L552.71,472.41 L553.79,472.44 L554.86,472.48 L555.93,472.51 L557.01,472.55 L558.08,472.58 L559.15,472.62 L560.22,472.65 L561.30,472.69 L562.37,472.72 L563.44,472.75 L564.52,472.79 L565.59,472.82 L566.66,472.85 L567.73,472.88 L568.81,472.91 L569.88,472.95 L570.95,472.98 L572.03,473.01 L573.10,473.04 L574.17,473.07 L575.24,473.10 L576.32,473.13 L577.39,473.15 L578.46,473.18 L579.54,473.21 L580.61,473.24 L581.68,473.27 L582.75,473.29 L583.83,473.32 L584.90,473.35 L585.97,473.37 L587.05,473.40 L588.12,473.43 L589.19,473.45 L590.26,473.48 L591.34,473.50 L592.41,473.53 L593.48,473.55 L594.56,473.58 L595.63,473.60 L596.70,473.62 L597.77,473.65 L598.85,473.67 L599.92,473.69 L600.99,473.72 L602.07,473.74 L603.14,473.76 L604.21,473.78 L605.28,473.81 L606.36,473.83 L607.43,473.85 L608.50,473.87 L609.58,473.89 L610.65,473.91 L611.72,473.93 L612.79,473.95 L613.87,473.97 L614.94,473.99 L616.01,474.01 L617.09,474.03 L618.16,474.05 L619.23,474.07 L620.30,474.09 L621.38,474.11 L622.45,474.13 L623.52,474.15 L624.60,474.17 L625.67,474.19 L626.74,474.20 L627.81,474.22 L628.89,474.24 L629.96,474.26 L631.03,474.27 L632.11,474.29 L633.18,474.31 L634.25,474.32 L635.32,474.34 L636.40,474.36 L637.47,474.37 L638.54,474.39 L639.62,474.41 L640.69,474.42 L641.76,474.44 L642.83,474.45 L643.91,474.47 L644.98,474.48 L646.05,474.50 L647.13,474.51 L648.20,474.53 L649.27,474.54 L650.34,474.56 L651.42,474.57 L652.49,474.59 L653.56,474.60 L654.64,474.62 L655.71,474.63 L656.78,474.64 L657.85,474.66 L658.93,474.67 L660.00,474.68 L661.07,474.70 L662.15,474.71 L663.22,474.72 L664.29,474.74 L665.36,474.75 L666.44,474.76 L667.51,474.78 L668.58,474.79 L669.66,474.80 L670.73,474.81 L671.80,474.82 L672.87,474.84 L673.95,474.85 L675.02,474.86 L676.09,474.87 L677.17,474.88 L678.24,474.90 L679.31,474.91 L680.38,474.92 L681.46,474.93 L682.53,474.94 L683.60,474.95 L684.68,474.96 L685.75,474.97 L686.82,474.98 L687.89,474.99 L688.97,475.00 L690.04,475.02 L691.11,475.03 L692.19,475.04 L693.26,475.05 L694.33,475.06 L695.40,475.07 L696.48,475.08 L697.55,475.09 L698.62,475.10 L699.70,475.11 L700.77,475.12 L701.84,475.12 L702.91,475.13 L703.99,475.14 L705.06,475.15 L706.13,475.16 L707.21,475.17 L708.28,475.18 L709.35,475.19 L710.42,475.20 L711.50,475.21 L712.57,475.22 L713.64,475.22 L714.71,475.23 L715.79,475.24 L716.86,475.25 L717.93,475.26 L719.01,475.27 L720.08,475.27 L721.15,475.28 L722.22,475.29 L723.30,475.30 L724.37,475.31 L725.44,475.31 L726.52,475.32 L727.59,475.33 L728.66,475.34 L729.73,475.35 L730.81,475.35 L731.88,475.36 L732.95,475.37 L734.03,475.38 L735.10,475.38 L736.17,475.39 L737.24,475.40 L738.32,475.40 L739.39,475.41 L740.46,475.42 L741.54,475.43 L742.61,475.43 L743.68,475.44 L744.75,475.45 L745.83,475.45 L746.90,475.46 L747.97,475.47 L749.05,475.47 L750.12,475.48 L751.19,475.49 L752.26,475.49 L753.34,475.50 L754.41,475.51 L755.48,475.51 L756.56,475.52 L757.63,475.52 L758.70,475.53 L759.77,475.54 L760.85,475.54 L761.92,475.55 L762.99,475.55 L764.07,475.56 L765.14,475.57 L766.21,475.57 L767.28,475.58 L768.36,475.58 L769.43,475.59 L770.50,475.59 L771.58,475.60 L772.65,475.61 L773.72,475.61 L774.79,475.62 L775.87,475.62 L776.94,475.63 L778.01,475.63 L779.09,475.64 L780.16,475.64 L781.23,475.65 L782.30,475.65 L783.38,475.66 L784.45,475.66 L785.52,475.67 L786.60,475.67 L787.67,475.68 L788.74,475.68 L789.81,475.69 L790.89,475.69 L791.96,475.70 L793.03,475.70 L794.11,475.71 L795.18,475.71 L796.25,475.72 L797.32,475.72 L798.40,475.73 L799.47,475.73 L800.54,475.74 L801.62,475.74 L802.69,475.75 L803.76,475.75 L804.83,475.75 L805.91,475.76 L806.98,475.76 L808.05,475.77 L809.13,475.77 L810.20,475.78 L811.27,475.78 L812.34,475.78 L813.42,475.79 L814.49,475.79 L815.56,475.80 L816.64,475.80 L817.71,475.80 L818.78,475.81 L819.85,475.81 L820.93,475.82 L822.00,475.82" stroke="#ff8000"/>
<path d="M205.11,-126.07 L206.18,-106.50 L207.26,-87.71 L208.33,-69.67 L209.40,-52.34 L210.48,-35.70 L211.55,-19.70 L212.62,-4.32 L213.69,10.48 L214.77,24.71 L215.84,38.40 L216.91,51.58 L217.99,64.27 L219.06,76.49 L220.13,88.26 L221.20,99.50 L222.28,110.31 L223.35,120.73 L224.42,130.79 L225.50,140.49 L226.57,149.86 L227.64,158.90 L228.71,167.63 L229.79,175.82 L230.86,183.72 L231.93,191.37 L233.01,198.76 L234.08,205.92 L235.15,212.85 L236.22,219.55 L237.30,226.05 L238.37,232.33 L239.44,238.42 L240.52,244.33 L241.59,249.84 L242.66,255.16 L243.73,260.33 L244.81,265.35 L245.88,270.21 L246.95,274.94 L248.03,279.53 L249.10,283.99 L250.17,288.32 L251.24,292.53 L252.32,296.62 L253.39,300.59 L254.46,304.46 L255.54,308.21 L256.61,311.87 L257.68,315.42 L258.75,318.88 L259.83,322.25 L260.90,325.68 L261.97,329.02 L263.05,332.26 L264.12,335.42 L265.19,338.48 L266.26,341.47 L267.34,344.38 L268.41,347.20 L269.48,349.95 L270.56,352.63 L271.63,355.24 L272.70,357.78 L273.77,360.25 L274.85,362.87 L275.92,365.47 L276.99,368.00 L278.07,370.45 L279.14,372.84 L280.21,375.16 L281.28,377.42 L282.36,379.62 L283.43,381.76 L284.50,383.84 L285.57,385.86 L286.65,387.83 L287.72,389.75 L288.79,391.61 L289.87,393.43 L290.94,395.20 L292.01,396.93 L293.08,398.61 L294.16,400.14 L295.23,401.56 L296.30,402.94 L297.38,404.29 L298.45,405.61 L299.52,406.90 L300.59,408.16 L301.67,409.40 L302.74,410.60 L303.81,411.78 L304.89,412.93 L305.96,414.05 L307.03,415.16 L308.10,416.23 L309.18,417.28 L310.25,418.31 L311.32,419.32 L312.40,420.31 L313.47,421.27 L314.54,422.21 L315.61,423.14 L316.69,424.04 L317.76,424.92 L318.83,425.79 L319.91,426.64 L320.98,427.47 L322.05,428.28 L323.12,429.07 L324.20,429.85 L325.27,430.62 L326.34,431.36 L327.42,432.09 L328.49,432.81 L329.56,433.51 L330.63,434.20 L331.71,434.88 L332.78,435.54 L333.85,436.19 L334.93,436.82 L336.00,437.44 L337.07,438.05 L338.14,438.65 L339.22,439.24 L340.29,439.81 L341.36,440.38 L342.44,440.93 L343.51,441.47 L344.58,442.01 L345.65,442.53 L346.73,443.04 L347.80,443.54 L348.87,444.04 L349.95,444.52 L351.02,445.01 L352.09,445.48 L353.16,445.95 L354.24,446.41 L355.31,446.86 L356.38,447.30 L357.46,447.73 L358.53,448.16 L359.60,448.57 L360.67,448.98 L361.75,449.38 L362.82,449.78 L363.89,450.17 L364.97,450.55 L366.04,450.92 L367.11,451.29 L368.18,451.65 L369.26,452.00 L370.33,452.35 L371.40,452.69 L372.48,453.03 L373.55,453.36 L374.62,453.68 L375.69,453.99 L376.77,454.31 L377.84,454.61 L378.91,454.91 L379.99,455.21 L381.06,455.50 L382.13,455.79 L383.20,456.07 L384.28,456.34 L385.35,456.61 L386.42,456.88 L387.50,457.14 L388.57,457.40 L389.64,457.66 L390.71,457.90 L391.79,458.15 L392.86,458.39 L393.93,458.63 L395.01,458.86 L396.08,459.09 L397.15,459.32 L398.22,459.54 L399.30,459.76 L400.37,459.97 L401.44,460.19 L402.52,460.39 L403.59,460.60 L404.66,460.80 L405.73,461.00 L406.81,461.19 L407.88,461.39 L408.95,461.58 L410.03,461.76 L411.10,461.95 L412.17,462.13 L413.24,462.30 L414.32,462.48 L415.39,462.65 L416.46,462.82 L417.54,462.99 L418.61,463.15 L419.68,463.31 L420.75,463.47 L421.83,463.63 L422.90,463.79 L423.97,463.94 L425.05,464.09 L426.12,464.24 L427.19,464.38 L428.26,464.53 L429.34,464.67 L430.41,464.81 L431.48,464.94 L432.56,465.08 L433.63,465.21 L434.70,465.34 L435.77,465.47 L436.85,465.60 L437.92,465.73 L438.99,465.85 L440.07,465.97 L441.14,466.09 L442.21,466.21 L443.28,466.33 L444.36,466.44 L445.43,466.56 L446.50,466.67 L447.58,466.78 L448.65,466.89 L449.72,467.00 L450.79,467.10 L451.87,467.21 L452.94,467.31 L454.01,467.41 L455.09,467.52 L456.16,467.61 L457.23,467.71 L458.30,467.81 L459.38,467.91 L460.45,468.00 L461.52,468.09 L462.60,468.18 L463.67,468.27 L464.74,468.36 L465.81,468.45 L466.89,468.54 L467.96,468.62 L469.03,468.71 L470.11,468.79 L471.18,468.87 L472.25,468.95 L473.32,469.03 L474.40,469.11 L475.47,469.19 L476.54,469.27 L477.62,469.34 L478.69,469.42 L479.76,469.49 L480.83,469.57 L481.91,469.64 L482.98,469.71 L484.05,469.78 L485.13,469.85 L486.20,469.92 L487.27,469.98 L488.34,470.05 L489.42,470.12 L490.49,470.18 L491.56,470.25 L492.64,470.31 L493.71,470.37 L494.78,470.43 L495.85,470.49 L496.93,470.55 L498.00,470.61 L499.07,470.67 L500.14,470.73 L501.22,470.79 L502.29,470.84 L503.36,470.90 L504.44,470.95 L505.51,471.01 L506.58,471.06 L507.65,471.12 L508.73,471.17 L509.80,471.22 L510.87,471.27 L511.95,471.32 L513.02,471.37 L514.09,471.42 L515.16,471.47 L516.24,471.52 L517.31,471.57 L518.38,471.61 L519.46,471.66 L520.53,471.71 L521.60,471.75 L522.67,471.80 L523.75,471.84 L524.82,471.88 L525.89,471.93 L526.97,471.97 L528.04,472.01 L529.11,472.05 L530.18,472.10 L531.26,472.14 L532.33,472.18 L533.40,472.22 L534.48,472.26 L535.55,472.29 L536.62,472.33 L537.69,472.37 L538.77,472.41 L539.84,472.45 L540.91,472.48 L541.99,472.52 L543.06,472.55 L544.13,472.59 L545.20,472.63 L546.28,472.66 L547.35,472.69 L548.42,472.73 L549.50,472.76 L550.57,472.80 L551.64,472.83 L552.71,472.86 L553.79,472.89 L554.86,472.92 L555.93,472.96 L557.01,472.99 L558.08,473.02 L559.15,473.05 L560.22,473.08 L561.30,473.11 L562.37,473.14 L563.44,473.17 L564.52,473.20 L565.59,473.22 L566.66,473.25 L567.73,473.28 L568.81,473.31 L569.88,473.33 L570.95,473.36 L572.03,473.39 L573.10,473.41 L574.17,473.44 L575.24,473.47 L576.32,473.49 L577.39,473.52 L578.46,473.54 L579.54,473.57 L580.61,473.59 L581.68,473.62 L582.75,473.64 L583.83,473.66 L584.90,473.69 L585.97,473.71 L587.05,473.73 L588.12,473.76 L589.19,473.78 L590.26,473.80 L591.34,473.82 L592.41,473.85 L593.48,473.87 L594.56,473.89 L595.63,473.91 L596.70,473.93 L597.77,473.95 L598.85,473.97 L599.92,473.99 L600.99,474.01 L602.07,474.03 L603.14,474.05 L604.21,474.07 L605.28,474.09 L606.36,474.11 L607.43,474.13 L608.50,474.15 L609.58,474.17 L610.65,474.19 L611.72,474.20 L612.79,474.22 L613.87,474.24 L614.94,474.26 L616.01,474.27 L617.09,474.29 L618.16,474.31 L619.23,474.33 L620.30,474.34 L621.38,474.36 L622.45,474.38 L623.52,474.39 L624.60,474.41 L625.67,474.42 L626.74,474.44 L627.81,474.46 L628.89,474.47 L629.96,474.49 L631.03,474.50 L632.11,474.52 L633.18,474.53 L634.25,474.55 L635.32,474.56 L636.40,474.58 L637.47,474.59 L638.54,474.61 L639.62,474.62 L640.69,474.63 L641.76,474.65 L642.83,474.66 L643.91,474.68 L644.98,474.69 L646.05,474.70 L647.13,474.72 L648.20,474.73 L649.27,474.74 L650.34,474.76 L651.42,474.77 L652.49,474.78 L653.56,474.79 L654.64,474.81 L655.71,474.82 L656.78,474.83 L657.85,474.84 L658.93,474.85 L660.00,474.87 L661.07,474.88 L662.15,474.89 L663.22,474.90 L664.29,474.91 L665.36,474.92 L666.44,474.94 L667.51,474.95 L668.58,474.96 L669.66,474.97 L670.73,474.98 L671.80,474.99 L672.87,475.00 L673.95,475.01 L675.02,475.02 L676.09,475.03 L677.17,475.04 L678.24,475.05 L679.31,475.06 L680.38,475.07 L681.46,475.08 L682.53,475.09 L683.60,475.10 L684.68,475.11 L685.75,475.12 L686.82,475.13 L687.89,475.14 L688.97,475.15 L690.04,475.16 L691.11,475.17 L692.19,475.18 L693.26,475.19 L694.33,475.20 L695.40,475.21 L696.48,475.22 L697.55,475.22 L698.62,475.23 L699.70,475.24 L700.77,475.25 L701.84,475.26 L702.91,475.27 L703.99,475.28 L705.06,475.28 L706.13,475.29 L707.21,475.30 L708.28,475.31 L709.35,475.32 L710.42,475.32 L711.50,475.33 L712.57,475.34 L713.64,475.35 L714.71,475.36 L715.79,475.36 L716.86,475.37 L717.93,475.38 L719.01,475.39 L720.08,475.39 L721.15,475.40 L722.22,475.41 L723.30,475.41 L724.37,475.42 L725.44,475.43 L726.52,475.44 L727.59,475.44 L728.66,475.45 L729.73,475.46 L730.81,475.46 L731.88,475.47 L732.95,475.48 L734.03,475.48 L735.10,475.49 L736.17,475.50 L737.24,475.50 L738.32,475.51 L739.39,475.52 L740.46,475.52 L741.54,475.53 L742.61,475.53 L743.68,475.54 L744.75,475.55 L745.83,475.55 L746.90,475.56 L747.97,475.56 L749.05,475.57 L750.12,475.58 L751.19,475.58 L752.26,475.59 L753.34,475.59 L754.41,475.60 L755.48,475.60 L756.56,475.61 L757.63,475.62 L758.70,475.62 L759.77,475.63 L760.85,475.63 L761.92,475.64 L762.99,475.64 L764.07,475.65 L765.14,475.65 L766.21,475.66 L767.28,475.66 L768.36,475.67 L769.43,475.67 L770.50,475.68 L771.58,475.68 L772.65,475.69 L773.72,475.69 L774.79,475.70 L775.87,475.70 L776.94,475.71 L778.01,475.71 L779.09,475.72 L780.16,475.72 L781.23,475.73 L782.30,475.73 L783.38,475.74 L784.45,475.74 L785.52,475.75 L786.60,475.75 L787.67,475.76 L788.74,475.76 L789.81,475.76 L790.89,475.77 L791.96,475.77 L793.03,475.78 L794.11,475.78 L795.18,475.79 L796.25,475.79 L797.32,475.79 L798.40,475.80 L799.47,475.80 L800.54,475.81 L801.62,475.81 L802.69,475.81 L803.76,475.82 L804.83,475.82 L805.91,475.83 L806.98,475.83 L808.05,475.83 L809.13,475.84 L810.20,475.84 L811.27,475.85 L812.34,475.85 L813.42,475.85 L814.49,475.86 L815.56,475.86 L816.64,475.86 L817.71,475.87 L818.78,475.87 L819.85,475.88 L820.93,475.88 L822.00,475.88" stroke="#14a900" stroke-dasharray="7.45 3.6" stroke-dashoffset="9.66"/>
<path d="M196.53,-122.18 L197.60,-103.18 L198.67,-84.94 L199.75,-67.41 L200.82,-50.58 L201.89,-34.40 L202.97,-18.85 L204.04,-3.89 L205.11,10.49 L206.18,24.34 L207.26,37.67 L208.33,50.50 L209.40,62.86 L210.48,74.77 L211.55,86.24 L212.62,97.57 L213.69,108.65 L214.77,119.33 L215.84,129.62 L216.91,139.54 L217.99,149.10 L219.06,158.32 L220.13,167.22 L221.20,175.50 L222.28,183.48 L223.35,191.19 L224.42,198.64 L225.50,205.85 L226.57,212.82 L227.64,219.57 L228.71,226.10 L229.79,232.42 L230.86,238.53 L231.93,244.46 L233.01,250.02 L234.08,255.39 L235.15,260.60 L236.22,265.65 L237.30,270.55 L238.37,275.31 L239.44,279.93 L240.52,284.41 L241.59,288.76 L242.66,292.99 L243.73,297.10 L244.81,301.09 L245.88,304.96 L246.95,308.73 L248.03,312.39 L249.10,315.96 L250.17,319.42 L251.24,322.85 L252.32,326.47 L253.39,329.98 L254.46,333.39 L255.54,336.70 L256.61,339.91 L257.68,343.03 L258.75,346.06 L259.83,349.01 L260.90,351.88 L261.97,354.66 L263.05,357.37 L264.12,360.00 L265.19,362.56 L266.26,365.05 L267.34,367.47 L268.41,369.83 L269.48,372.12 L270.56,374.35 L271.63,376.52 L272.70,378.64 L273.77,380.69 L274.85,382.70 L275.92,384.65 L276.99,386.55 L278.07,388.41 L279.14,390.21 L280.21,391.97 L281.28,393.68 L282.36,395.35 L283.43,396.98 L284.50,398.57 L285.57,400.02 L286.65,401.35 L287.72,402.64 L288.79,403.91 L289.87,405.14 L290.94,406.36 L292.01,407.54 L293.08,408.70 L294.16,409.83 L295.23,410.94 L296.30,412.03 L297.38,413.09 L298.45,414.13 L299.52,415.15 L300.59,416.15 L301.67,417.12 L302.74,418.08 L303.81,419.02 L304.89,419.93 L305.96,420.83 L307.03,421.71 L308.10,422.58 L309.18,423.42 L310.25,424.25 L311.32,425.06 L312.40,425.85 L313.47,426.63 L314.54,427.40 L315.61,428.15 L316.69,428.88 L317.76,429.60 L318.83,430.31 L319.91,431.00 L320.98,431.68 L322.05,432.34 L323.12,433.00 L324.20,433.64 L325.27,434.27 L326.34,434.88 L327.42,435.49 L328.49,436.08 L329.56,436.67 L330.63,437.24 L331.71,437.80 L332.78,438.35 L333.85,438.89 L334.93,439.42 L336.00,439.95 L337.07,440.46 L338.14,440.96 L339.22,441.46 L340.29,441.94 L341.36,442.42 L342.44,442.89 L343.51,443.35 L344.58,443.80 L345.65,444.24 L346.73,444.68 L347.80,445.11 L348.87,445.53 L349.95,445.95 L351.02,446.39 L352.09,446.82 L353.16,447.25 L354.24,447.67 L355.31,448.08 L356.38,448.49 L357.46,448.89 L358.53,449.28 L359.60,449.66 L360.67,450.04 L361.75,450.41 L362.82,450.77 L363.89,451.13 L364.97,451.48 L366.04,451.82 L367.11,452.16 L368.18,452.49 L369.26,452.82 L370.33,453.14 L371.40,453.46 L372.48,453.77 L373.55,454.08 L374.62,454.39 L375.69,454.70 L376.77,454.99 L377.84,455.29 L378.91,455.58 L379.99,455.86 L381.06,456.14 L382.13,456.42 L383.20,456.69 L384.28,456.95 L385.35,457.21 L386.42,457.47 L387.50,457.72 L388.57,457.97 L389.64,458.22 L390.71,458.46 L391.79,458.69 L392.86,458.92 L393.93,459.15 L395.01,459.38 L396.08,459.60 L397.15,459.82 L398.22,460.03 L399.30,460.24 L400.37,460.45 L401.44,460.65 L402.52,460.85 L403.59,461.05 L404.66,461.25 L405.73,461.44 L406.81,461.63 L407.88,461.81 L408.95,461.99 L410.03,462.17 L411.10,462.35 L412.17,462.52 L413.24,462.70 L414.32,462.86 L415.39,463.03 L416.46,463.19 L417.54,463.36 L418.61,463.51 L419.68,463.67 L420.75,463.82 L421.83,463.98 L422.90,464.13 L423.97,464.27 L425.05,464.42 L426.12,464.56 L427.19,464.70 L428.26,464.84 L429.34,464.98 L430.41,465.11 L431.48,465.24 L432.56,465.37 L433.63,465.50 L434.70,465.63 L435.77,465.76 L436.85,465.88 L437.92,466.00 L438.99,466.12 L440.07,466.24 L441.14,466.35 L442.21,466.47 L443.28,466.58 L444.36,466.69 L445.43,466.80 L446.50,466.91 L447.58,467.02 L448.65,467.12 L449.72,467.23 L450.79,467.33 L451.87,467.43 L452.94,467.53 L454.01,467.63 L455.09,467.73 L456.16,467.82 L457.23,467.92 L458.30,468.01 L459.38,468.11 L460.45,468.20 L461.52,468.29 L462.60,468.37 L463.67,468.46 L464.74,468.55 L465.81,468.63 L466.89,468.72 L467.96,468.80 L469.03,468.88 L470.11,468.96 L471.18,469.04 L472.25,469.12 L473.32,469.20 L474.40,469.27 L475.47,469.35 L476.54,469.42 L477.62,469.50 L478.69,469.57 L479.76,469.64 L480.83,469.71 L481.91,469.78 L482.98,469.85 L484.05,469.92 L485.13,469.98 L486.20,470.05 L487.27,470.12 L488.34,470.18 L489.42,470.24 L490.49,470.31 L491.56,470.37 L492.64,470.43 L493.71,470.49 L494.78,470.55 L495.85,470.61 L496.93,470.67 L498.00,470.73 L499.07,470.78 L500.14,470.84 L501.22,470.89 L502.29,470.95 L503.36,471.00 L504.44,471.06 L505.51,471.11 L506.58,471.16 L507.65,471.21 L508.73,471.26 L509.80,471.31 L510.87,471.36 L511.95,471.41 L513.02,471.46 L514.09,471.51 L515.16,471.56 L516.24,471.60 L517.31,471.65 L518.38,471.70 L519.46,471.74 L520.53,471.79 L521.60,471.83 L522.67,471.87 L523.75,471.92 L524.82,471.96 L525.89,472.00 L526.97,472.04 L528.04,472.08 L529.11,472.12 L530.18,472.16 L531.26,472.20 L532.33,472.24 L533.40,472.28 L534.48,472.32 L535.55,472.36 L536.62,472.39 L537.69,472.43 L538.77,472.47 L539.84,472.50 L540.91,472.54 L541.99,472.57 L543.06,472.61 L544.13,472.64 L545.20,472.68 L546.28,472.71 L547.35,472.75 L548.42,472.78 L549.50,472.81 L550.57,472.84 L551.64,472.88 L552.71,472.91 L553.79,472.94 L554.86,472.97 L555.93,473.00 L557.01,473.03 L558.08,473.06 L559.15,473.09 L560.22,473.12 L561.30,473.15 L562.37,473.18 L563.44,473.20 L564.52,473.23 L565.59,473.26 L566.66,473.29 L567.73,473.32 L568.81,473.34 L569.88,473.37 L570.95,473.39 L572.03,473.42 L573.10,473.45 L574.17,473.47 L575.24,473.50 L576.32,473.52 L577.39,473.55 L578.46,473.57 L579.54,473.60 L580.61,473.62 L581.68,473.64 L582.75,473.67 L583.83,473.69 L584.90,473.71 L585.97,473.74 L587.05,473.76 L588.12,473.78 L589.19,473.80 L590.26,473.82 L591.34,473.85 L592.41,473.87 L593.48,473.89 L594.56,473.91 L595.63,473.93 L596.70,473.95 L597.77,473.97 L598.85,473.99 L599.92,474.01 L600.99,474.03 L602.07,474.05 L603.14,474.07 L604.21,474.09 L605.28,474.11 L606.36,474.13 L607.43,474.14 L608.50,474.16 L609.58,474.18 L610.65,474.20 L611.72,474.22 L612.79,474.24 L613.87,474.25 L614.94,474.27 L616.01,474.29 L617.09,474.30 L618.16,474.32 L619.23,474.34 L620.30,474.35 L621.38,474.37 L622.45,474.39 L623.52,474.40 L624.60,474.42 L625.67,474.43 L626.74,474.45 L627.81,474.47 L628.89,474.48 L629.96,474.50 L631.03,474.51 L632.11,474.53 L633.18,474.54 L634.25,474.56 L635.32,474.57 L636.40,474.58 L637.47,474.60 L638.54,474.61 L639.62,474.63 L640.69,474.64 L641.76,474.65 L642.83,474.67 L643.91,474.68 L644.98,474.69 L646.05,474.71 L647.13,474.72 L648.20,474.73 L649.27,474.75 L650.34,474.76 L651.42,474.77 L652.49,474.78 L653.56,474.80 L654.64,474.81 L655.71,474.82 L656.78,474.83 L657.85,474.84 L658.93,474.86 L660.00,474.87 L661.07,474.88 L662.15,474.89 L663.22,474.90 L664.29,474.91 L665.36,474.93 L666.44,474.94 L667.51,474.95 L668.58,474.96 L669.66,474.97 L670.73,474.98 L671.80,474.99 L672.87,475.00 L673.95,475.01 L675.02,475.02 L676.09,475.03 L677.17,475.04 L678.24,475.05 L679.31,475.06 L680.38,475.07 L681.46,475.08 L682.53,475.09 L683.60,475.10 L684.68,475.11 L685.75,475.12 L686.82,475.13 L687.89,475.14 L688.97,475.15 L690.04,475.16 L691.11,475.17 L692.19,475.18 L693.26,475.19 L694.33,475.20 L695.40,475.21 L696.48,475.22 L697.55,475.22 L698.62,475.23 L699.70,475.24 L700.77,475.25 L701.84,475.26 L702.91,475.27 L703.99,475.28 L705.06,475.28 L706.13,475.29 L707.21,475.30 L708.28,475.31 L709.35,475.32 L710.42,475.32 L711.50,475.33 L712.57,475.34 L713.64,475.35 L714.71,475.36 L715.79,475.36 L716.86,475.37 L717.93,475.38 L719.01,475.39 L720.08,475.39 L721.15,475.40 L722.22,475.41 L723.30,475.41 L724.37,475.42 L725.44,475.43 L726.52,475.44 L727.59,475.44 L728.66,475.45 L729.73,475.46 L730.81,475.46 L731.88,475.47 L732.95,475.48 L734.03,475.48 L735.10,475.49 L736.17,475.50 L737.24,475.50 L738.32,475.51 L739.39,475.52 L740.46,475.52 L741.54,475.53 L742.61,475.53 L743.68,475.54 L744.75,475.55 L745.83,475.55 L746.90,475.56 L747.97,475.56 L749.05,475.57 L750.12,475.58 L751.19,475.58 L752.26,475.59 L753.34,475.59 L754.41,475.60 L755.48,475.60 L756.56,475.61 L757.63,475.62 L758.70,475.62 L759.77,475.63 L760.85,475.63 L761.92,475.64 L762.99,475.64 L764.07,475.65 L765.14,475.65 L766.21,475.66 L767.28,475.66 L768.36,475.67 L769.43,475.67 L770.50,475.68 L771.58,475.68 L772.65,475.69 L773.72,475.69 L774.79,475.70 L775.87,475.70 L776.94,475.71 L778.01,475.71 L779.09,475.72 L780.16,475.72 L781.23,475.73 L782.30,475.73 L783.38,475.74 L784.45,475.74 L785.52,475.75 L786.60,475.75 L787.67,475.76 L788.74,475.76 L789.81,475.76 L790.89,475.77 L791.96,475.77 L793.03,475.78 L794.11,475.78 L795.18,475.79 L796.25,475.79 L797.32,475.79 L798.40,475.80 L799.47,475.80 L800.54,475.81 L801.62,475.81 L802.69,475.81 L803.76,475.82 L804.83,475.82 L805.91,475.83 L806.98,475.83 L808.05,475.83 L809.13,475.84 L810.20,475.84 L811.27,475.85 L812.34,475.85 L813.42,475.85 L814.49,475.86 L815.56,475.86 L816.64,475.86 L817.71,475.87 L818.78,475.87 L819.85,475.88 L820.93,475.88 L822.00,475.88" stroke="#0a0aff" stroke-dasharray="7.45 3.6" stroke-dashoffset="8.79"/>
<path d="M185.80,-129.21 L186.87,-108.39 L187.95,-88.47 L189.02,-69.40 L190.09,-51.15 L191.16,-33.66 L192.24,-16.91 L193.31,-0.85 L194.38,14.55 L195.46,29.33 L196.53,43.51 L197.60,57.12 L198.67,70.19 L199.75,82.75 L200.82,95.07 L201.89,107.33 L202.97,119.10 L204.04,130.41 L205.11,141.27 L206.18,151.70 L207.26,161.73 L208.33,171.18 L209.40,179.96 L210.48,188.42 L211.55,196.58 L212.62,204.44 L213.69,212.03 L214.77,219.34 L215.84,226.41 L216.91,233.22 L217.99,239.81 L219.06,246.13 L220.13,252.08 L221.20,257.84 L222.28,263.40 L223.35,268.79 L224.42,274.01 L225.50,279.05 L226.57,283.94 L227.64,288.68 L228.71,293.26 L229.79,297.71 L230.86,302.01 L231.93,306.19 L233.01,310.23 L234.08,314.16 L235.15,317.97 L236.22,321.66 L237.30,325.15 L238.37,328.52 L239.44,331.80 L240.52,334.98 L241.59,338.07 L242.66,341.08 L243.73,344.00 L244.81,346.84 L245.88,349.61 L246.95,352.30 L248.03,354.91 L249.10,357.46 L250.17,359.93 L251.24,362.34 L252.32,364.69 L253.39,366.97 L254.46,369.20 L255.54,371.37 L256.61,373.48 L257.68,375.53 L258.75,377.54 L259.83,379.49 L260.90,381.39 L261.97,383.25 L263.05,385.06 L264.12,386.82 L265.19,388.54 L266.26,390.22 L267.34,391.86 L268.41,393.45 L269.48,395.01 L270.56,396.53 L271.63,398.02 L272.70,399.46 L273.77,400.84 L274.85,402.18 L275.92,403.50 L276.99,404.78 L278.07,406.03 L279.14,407.26 L280.21,408.46 L281.28,409.63 L282.36,410.77 L283.43,411.89 L284.50,412.99 L285.57,414.06 L286.65,415.11 L287.72,416.13 L288.79,417.13 L289.87,418.12 L290.94,419.08 L292.01,420.02 L293.08,420.94 L294.16,421.84 L295.23,422.72 L296.30,423.58 L297.38,424.43 L298.45,425.26 L299.52,426.07 L300.59,426.86 L301.67,427.64 L302.74,428.41 L303.81,429.15 L304.89,429.88 L305.96,430.60 L307.03,431.31 L308.10,432.00 L309.18,432.67 L310.25,433.33 L311.32,433.98 L312.40,434.62 L313.47,435.25 L314.54,435.86 L315.61,436.46 L316.69,437.05 L317.76,437.63 L318.83,438.19 L319.91,438.75 L320.98,439.30 L322.05,439.83 L323.12,440.36 L324.20,440.87 L325.27,441.38 L326.34,441.88 L327.42,442.37 L328.49,442.85 L329.56,443.32 L330.63,443.78 L331.71,444.23 L332.78,444.68 L333.85,445.12 L334.93,445.55 L336.00,445.97 L337.07,446.38 L338.14,446.79 L339.22,447.19 L340.29,447.58 L341.36,447.97 L342.44,448.35 L343.51,448.72 L344.58,449.09 L345.65,449.45 L346.73,449.81 L347.80,450.15 L348.87,450.50 L349.95,450.84 L351.02,451.20 L352.09,451.55 L353.16,451.89 L354.24,452.23 L355.31,452.57 L356.38,452.89 L357.46,453.22 L358.53,453.53 L359.60,453.84 L360.67,454.15 L361.75,454.45 L362.82,454.74 L363.89,455.03 L364.97,455.32 L366.04,455.60 L367.11,455.88 L368.18,456.15 L369.26,456.41 L370.33,456.68 L371.40,456.93 L372.48,457.19 L373.55,457.43 L374.62,457.66 L375.69,457.88 L376.77,458.11 L377.84,458.32 L378.91,458.54 L379.99,458.75 L381.06,458.96 L382.13,459.17 L383.20,459.37 L384.28,459.57 L385.35,459.77 L386.42,459.96 L387.50,460.15 L388.57,460.34 L389.64,460.53 L390.71,460.71 L391.79,460.89 L392.86,461.07 L393.93,461.24 L395.01,461.41 L396.08,461.58 L397.15,461.75 L398.22,461.92 L399.30,462.08 L400.37,462.24 L401.44,462.40 L402.52,462.55 L403.59,462.71 L404.66,462.86 L405.73,463.01 L406.81,463.15 L407.88,463.30 L408.95,463.44 L410.03,463.58 L411.10,463.72 L412.17,463.86 L413.24,463.99 L414.32,464.13 L415.39,464.26 L416.46,464.39 L417.54,464.51 L418.61,464.64 L419.68,464.77 L420.75,464.89 L421.83,465.01 L422.90,465.13 L423.97,465.25 L425.05,465.36 L426.12,465.48 L427.19,465.59 L428.26,465.70 L429.34,465.81 L430.41,465.92 L431.48,466.03 L432.56,466.13 L433.63,466.24 L434.70,466.34 L435.77,466.44 L436.85,466.54 L437.92,466.64 L438.99,466.74 L440.07,466.84 L441.14,466.93 L442.21,467.03 L443.28,467.12 L444.36,467.21 L445.43,467.30 L446.50,467.39 L447.58,467.48 L448.65,467.57 L449.72,467.65 L450.79,467.75 L451.87,467.85 L452.94,467.94 L454.01,468.04 L455.09,468.13 L456.16,468.22 L457.23,468.31 L458.30,468.40 L459.38,468.48 L460.45,468.57 L461.52,468.66 L462.60,468.74 L463.67,468.82 L464.74,468.90 L465.81,468.99 L466.89,469.06 L467.96,469.14 L469.03,469.22 L470.11,469.30 L471.18,469.37 L472.25,469.45 L473.32,469.52 L474.40,469.59 L475.47,469.66 L476.54,469.74 L477.62,469.81 L478.69,469.87 L479.76,469.94 L480.83,470.01 L481.91,470.08 L482.98,470.14 L484.05,470.21 L485.13,470.27 L486.20,470.33 L487.27,470.39 L488.34,470.46 L489.42,470.52 L490.49,470.58 L491.56,470.63 L492.64,470.69 L493.71,470.75 L494.78,470.81 L495.85,470.86 L496.93,470.92 L498.00,470.97 L499.07,471.03 L500.14,471.08 L501.22,471.13 L502.29,471.19 L503.36,471.24 L504.44,471.29 L505.51,471.34 L506.58,471.39 L507.65,471.44 L508.73,471.49 L509.80,471.53 L510.87,471.58 L511.95,471.63 L513.02,471.67 L514.09,471.72 L515.16,471.76 L516.24,471.81 L517.31,471.85 L518.38,471.90 L519.46,471.94 L520.53,471.98 L521.60,472.02 L522.67,472.07 L523.75,472.11 L524.82,472.15 L525.89,472.19 L526.97,472.23 L528.04,472.26 L529.11,472.30 L530.18,472.34 L531.26,472.38 L532.33,472.41 L533.40,472.45 L534.48,472.49 L535.55,472.52 L536.62,472.56 L537.69,472.59 L538.77,472.63 L539.84,472.66 L540.91,472.70 L541.99,472.73 L543.06,472.76 L544.13,472.79 L545.20,472.83 L546.28,472.86 L547.35,472.89 L548.42,472.92 L549.50,472.95 L550.57,472.98 L551.64,473.01 L552.71,473.04 L553.79,473.07 L554.86,473.10 L555.93,473.13 L557.01,473.16 L558.08,473.19 L559.15,473.22 L560.22,473.24 L561.30,473.27 L562.37,473.30 L563.44,473.33 L564.52,473.35 L565.59,473.38 L566.66,473.41 L567.73,473.43 L568.81,473.46 L569.88,473.48 L570.95,473.51 L572.03,473.53 L573.10,473.56 L574.17,473.58 L575.24,473.60 L576.32,473.63 L577.39,473.65 L578.46,473.67 L579.54,473.70 L580.61,473.72 L581.68,473.74 L582.75,473.76 L583.83,473.79 L584.90,473.81 L585.97,473.83 L587.05,473.85 L588.12,473.87 L589.19,473.89 L590.26,473.91 L591.34,473.94 L592.41,473.96 L593.48,473.98 L594.56,474.00 L595.63,474.02 L596.70,474.04 L597.77,474.05 L598.85,474.07 L599.92,474.09 L600.99,474.11 L602.07,474.13 L603.14,474.15 L604.21,474.17 L605.28,474.18 L606.36,474.20 L607.43,474.22 L608.50,474.24 L609.58,474.26 L610.65,474.27 L611.72,474.29 L612.79,474.31 L613.87,474.32 L614.94,474.34 L616.01,474.36 L617.09,474.37 L618.16,474.39 L619.23,474.40 L620.30,474.42 L621.38,474.44 L622.45,474.45 L623.52,474.47 L624.60,474.48 L625.67,474.50 L626.74,474.51 L627.81,474.53 L628.89,474.54 L629.96,474.56 L631.03,474.57 L632.11,474.58 L633.18,474.60 L634.25,474.61 L635.32,474.63 L636.40,474.64 L637.47,474.65 L638.54,474.67 L639.62,474.68 L640.69,474.69 L641.76,474.71 L642.83,474.72 L643.91,474.73 L644.98,474.75 L646.05,474.76 L647.13,474.77 L648.20,474.78 L649.27,474.79 L650.34,474.81 L651.42,474.82 L652.49,474.83 L653.56,474.84 L654.64,474.85 L655.71,474.87 L656.78,474.88 L657.85,474.89 L658.93,474.90 L660.00,474.91 L661.07,474.92 L662.15,474.93 L663.22,474.94 L664.29,474.96 L665.36,474.97 L666.44,474.98 L667.51,474.99 L668.58,475.00 L669.66,475.01 L670.73,475.02 L671.80,475.03 L672.87,475.04 L673.95,475.05 L675.02,475.06 L676.09,475.07 L677.17,475.08 L678.24,475.09 L679.31,475.10 L680.38,475.11 L681.46,475.12 L682.53,475.13 L683.60,475.14 L684.68,475.15 L685.75,475.16 L686.82,475.17 L687.89,475.17 L688.97,475.18 L690.04,475.19 L691.11,475.20 L692.19,475.21 L693.26,475.22 L694.33,475.23 L695.40,475.24 L696.48,475.25 L697.55,475.25 L698.62,475.26 L699.70,475.27 L700.77,475.28 L701.84,475.29 L702.91,475.29 L703.99,475.30 L705.06,475.31 L706.13,475.32 L707.21,475.33 L708.28,475.33 L709.35,475.34 L710.42,475.35 L711.50,475.36 L712.57,475.36 L713.64,475.37 L714.71,475.38 L715.79,475.39 L716.86,475.39 L717.93,475.40 L719.01,475.41 L720.08,475.42 L721.15,475.42 L722.22,475.43 L723.30,475.44 L724.37,475.44 L725.44,475.45 L726.52,475.46 L727.59,475.46 L728.66,475.47 L729.73,475.48 L730.81,475.48 L731.88,475.49 L732.95,475.50 L734.03,475.50 L735.10,475.51 L736.17,475.52 L737.24,475.52 L738.32,475.53 L739.39,475.53 L740.46,475.54 L741.54,475.55 L742.61,475.55 L743.68,475.56 L744.75,475.56 L745.83,475.57 L746.90,475.58 L747.97,475.58 L749.05,475.59 L750.12,475.59 L751.19,475.60 L752.26,475.60 L753.34,475.61 L754.41,475.62 L755.48,475.62 L756.56,475.63 L757.63,475.63 L758.70,475.64 L759.77,475.64 L760.85,475.65 L761.92,475.65 L762.99,475.66 L764.07,475.66 L765.14,475.67 L766.21,475.67 L767.28,475.68 L768.36,475.68 L769.43,475.69 L770.50,475.69 L771.58,475.70 L772.65,475.70 L773.72,475.71 L774.79,475.71 L775.87,475.72 L776.94,475.72 L778.01,475.73 L779.09,475.73 L780.16,475.74 L781.23,475.74 L782.30,475.74 L783.38,475.75 L784.45,475.75 L785.52,475.76 L786.60,475.76 L787.67,475.77 L788.74,475.77 L789.81,475.78 L790.89,475.78 L791.96,475.78 L793.03,475.79 L794.11,475.79 L795.18,475.80 L796.25,475.80 L797.32,475.80 L798.40,475.81 L799.47,475.81 L800.54,475.82 L801.62,475.82 L802.69,475.82 L803.76,475.83 L804.83,475.83 L805.91,475.84 L806.98,475.84 L808.05,475.84 L809.13,475.85 L810.20,475.85 L811.27,475.85 L812.34,475.86 L813.42,475.86 L814.49,475.87 L815.56,475.87 L816.64,475.87 L817.71,475.88 L818.78,475.88 L819.85,475.88 L820.93,475.89 L822.00,475.89" stroke="#ff8000" stroke-dasharray="7.45 3.6" stroke-dashoffset="2.26"/>
<line x1="74.9" y1="17.4" x2="74.9" y2="476.5" stroke="#ff8000" stroke-width="2.4" stroke-dasharray="7.6 3.5"/>
</g>
<line x1="372.90" y1="12.20" x2="372.90" y2="23.20" stroke="#ff0000" stroke-width="2.5"/>
<line x1="372.90" y1="32.61" x2="372.90" y2="44.41" stroke="#ff0000" stroke-width="2.5"/>
<line x1="372.90" y1="53.82" x2="372.90" y2="65.62" stroke="#ff0000" stroke-width="2.5"/>
<line x1="372.90" y1="75.03" x2="372.90" y2="86.83" stroke="#ff0000" stroke-width="2.5"/>
<line x1="372.90" y1="96.24" x2="372.90" y2="108.04" stroke="#ff0000" stroke-width="2.5"/>
<line x1="372.90" y1="117.45" x2="372.90" y2="129.25" stroke="#ff0000" stroke-width="2.5"/>
<line x1="372.90" y1="138.66" x2="372.90" y2="150.46" stroke="#ff0000" stroke-width="2.5"/>
<line x1="372.90" y1="159.87" x2="372.90" y2="171.67" stroke="#ff0000" stroke-width="2.5"/>
<line x1="372.90" y1="181.08" x2="372.90" y2="192.88" stroke="#ff0000" stroke-width="2.5"/>
<line x1="372.90" y1="202.29" x2="372.90" y2="214.09" stroke="#ff0000" stroke-width="2.5"/>
<line x1="372.90" y1="223.50" x2="372.90" y2="235.30" stroke="#ff0000" stroke-width="2.5"/>
<line x1="372.90" y1="244.71" x2="372.90" y2="256.51" stroke="#ff0000" stroke-width="2.5"/>
<line x1="372.90" y1="265.92" x2="372.90" y2="277.72" stroke="#ff0000" stroke-width="2.5"/>
<line x1="372.90" y1="287.13" x2="372.90" y2="298.93" stroke="#ff0000" stroke-width="2.5"/>
<line x1="372.90" y1="308.34" x2="372.90" y2="320.14" stroke="#ff0000" stroke-width="2.5"/>
<line x1="372.90" y1="329.55" x2="372.90" y2="341.35" stroke="#ff0000" stroke-width="2.5"/>
<line x1="372.90" y1="350.76" x2="372.90" y2="362.56" stroke="#ff0000" stroke-width="2.5"/>
<line x1="372.90" y1="371.97" x2="372.90" y2="383.77" stroke="#ff0000" stroke-width="2.5"/>
<line x1="372.90" y1="393.18" x2="372.90" y2="404.98" stroke="#ff0000" stroke-width="2.5"/>
<line x1="372.90" y1="414.39" x2="372.90" y2="426.19" stroke="#ff0000" stroke-width="2.5"/>
<line x1="372.90" y1="435.60" x2="372.90" y2="468.30" stroke="#ff0000" stroke-width="2.5"/>
<line x1="73.50" y1="476.50" x2="73.50" y2="472.30" stroke="#333" stroke-width="1"/>
<line x1="73.50" y1="13.50" x2="73.50" y2="18.30" stroke="#888" stroke-width="1"/>
<line x1="103.44" y1="476.50" x2="103.44" y2="473.70" stroke="#666" stroke-width="1"/>
<line x1="103.44" y1="13.50" x2="103.44" y2="17.30" stroke="#b0b0b0" stroke-width="1"/>
<line x1="133.38" y1="476.50" x2="133.38" y2="473.70" stroke="#666" stroke-width="1"/>
<line x1="133.38" y1="13.50" x2="133.38" y2="17.30" stroke="#b0b0b0" stroke-width="1"/>
<line x1="163.32" y1="476.50" x2="163.32" y2="473.70" stroke="#666" stroke-width="1"/>
<line x1="163.32" y1="13.50" x2="163.32" y2="17.30" stroke="#b0b0b0" stroke-width="1"/>
<line x1="193.26" y1="476.50" x2="193.26" y2="473.70" stroke="#666" stroke-width="1"/>
<line x1="193.26" y1="13.50" x2="193.26" y2="17.30" stroke="#b0b0b0" stroke-width="1"/>
<line x1="223.20" y1="476.50" x2="223.20" y2="472.30" stroke="#333" stroke-width="1"/>
<line x1="223.20" y1="13.50" x2="223.20" y2="18.30" stroke="#888" stroke-width="1"/>
<line x1="253.14" y1="476.50" x2="253.14" y2="473.70" stroke="#666" stroke-width="1"/>
<line x1="253.14" y1="13.50" x2="253.14" y2="17.30" stroke="#b0b0b0" stroke-width="1"/>
<line x1="283.08" y1="476.50" x2="283.08" y2="473.70" stroke="#666" stroke-width="1"/>
<line x1="283.08" y1="13.50" x2="283.08" y2="17.30" stroke="#b0b0b0" stroke-width="1"/>
<line x1="313.02" y1="476.50" x2="313.02" y2="473.70" stroke="#666" stroke-width="1"/>
<line x1="313.02" y1="13.50" x2="313.02" y2="17.30" stroke="#b0b0b0" stroke-width="1"/>
<line x1="342.96" y1="476.50" x2="342.96" y2="473.70" stroke="#666" stroke-width="1"/>
<line x1="342.96" y1="13.50" x2="342.96" y2="17.30" stroke="#b0b0b0" stroke-width="1"/>
<line x1="372.90" y1="476.50" x2="372.90" y2="472.30" stroke="#333" stroke-width="1"/>
<line x1="372.90" y1="13.50" x2="372.90" y2="18.30" stroke="#888" stroke-width="1"/>
<line x1="402.84" y1="476.50" x2="402.84" y2="473.70" stroke="#666" stroke-width="1"/>
<line x1="402.84" y1="13.50" x2="402.84" y2="17.30" stroke="#b0b0b0" stroke-width="1"/>
<line x1="432.78" y1="476.50" x2="432.78" y2="473.70" stroke="#666" stroke-width="1"/>
<line x1="432.78" y1="13.50" x2="432.78" y2="17.30" stroke="#b0b0b0" stroke-width="1"/>
<line x1="462.72" y1="476.50" x2="462.72" y2="473.70" stroke="#666" stroke-width="1"/>
<line x1="462.72" y1="13.50" x2="462.72" y2="17.30" stroke="#b0b0b0" stroke-width="1"/>
<line x1="492.66" y1="476.50" x2="492.66" y2="473.70" stroke="#666" stroke-width="1"/>
<line x1="492.66" y1="13.50" x2="492.66" y2="17.30" stroke="#b0b0b0" stroke-width="1"/>
<line x1="522.60" y1="476.50" x2="522.60" y2="472.30" stroke="#333" stroke-width="1"/>
<line x1="522.60" y1="13.50" x2="522.60" y2="18.30" stroke="#888" stroke-width="1"/>
<line x1="552.54" y1="476.50" x2="552.54" y2="473.70" stroke="#666" stroke-width="1"/>
<line x1="552.54" y1="13.50" x2="552.54" y2="17.30" stroke="#b0b0b0" stroke-width="1"/>
<line x1="582.48" y1="476.50" x2="582.48" y2="473.70" stroke="#666" stroke-width="1"/>
<line x1="582.48" y1="13.50" x2="582.48" y2="17.30" stroke="#b0b0b0" stroke-width="1"/>
<line x1="612.42" y1="476.50" x2="612.42" y2="473.70" stroke="#666" stroke-width="1"/>
<line x1="612.42" y1="13.50" x2="612.42" y2="17.30" stroke="#b0b0b0" stroke-width="1"/>
<line x1="642.36" y1="476.50" x2="642.36" y2="473.70" stroke="#666" stroke-width="1"/>
<line x1="642.36" y1="13.50" x2="642.36" y2="17.30" stroke="#b0b0b0" stroke-width="1"/>
<line x1="672.30" y1="476.50" x2="672.30" y2="472.30" stroke="#333" stroke-width="1"/>
<line x1="672.30" y1="13.50" x2="672.30" y2="18.30" stroke="#888" stroke-width="1"/>
<line x1="702.24" y1="476.50" x2="702.24" y2="473.70" stroke="#666" stroke-width="1"/>
<line x1="702.24" y1="13.50" x2="702.24" y2="17.30" stroke="#b0b0b0" stroke-width="1"/>
<line x1="732.18" y1="476.50" x2="732.18" y2="473.70" stroke="#666" stroke-width="1"/>
<line x1="732.18" y1="13.50" x2="732.18" y2="17.30" stroke="#b0b0b0" stroke-width="1"/>
<line x1="762.12" y1="476.50" x2="762.12" y2="473.70" stroke="#666" stroke-width="1"/>
<line x1="762.12" y1="13.50" x2="762.12" y2="17.30" stroke="#b0b0b0" stroke-width="1"/>
<line x1="792.06" y1="476.50" x2="792.06" y2="473.70" stroke="#666" stroke-width="1"/>
<line x1="792.06" y1="13.50" x2="792.06" y2="17.30" stroke="#b0b0b0" stroke-width="1"/>
<line x1="822.00" y1="476.50" x2="822.00" y2="472.30" stroke="#333" stroke-width="1"/>
<line x1="822.00" y1="13.50" x2="822.00" y2="18.30" stroke="#888" stroke-width="1"/>
<line x1="73.50" y1="476.50" x2="77.40" y2="476.50" stroke="#222" stroke-width="1"/>
<line x1="822.00" y1="476.50" x2="817.40" y2="476.50" stroke="#777" stroke-width="1"/>
<line x1="73.50" y1="457.21" x2="76.20" y2="457.21" stroke="#444" stroke-width="1"/>
<line x1="822.00" y1="457.21" x2="818.50" y2="457.21" stroke="#b8b8b8" stroke-width="1"/>
<line x1="73.50" y1="437.92" x2="76.20" y2="437.92" stroke="#444" stroke-width="1"/>
<line x1="822.00" y1="437.92" x2="818.50" y2="437.92" stroke="#b8b8b8" stroke-width="1"/>
<line x1="73.50" y1="418.62" x2="76.20" y2="418.62" stroke="#444" stroke-width="1"/>
<line x1="822.00" y1="418.62" x2="818.50" y2="418.62" stroke="#b8b8b8" stroke-width="1"/>
<line x1="73.50" y1="399.33" x2="77.40" y2="399.33" stroke="#222" stroke-width="1"/>
<line x1="822.00" y1="399.33" x2="817.40" y2="399.33" stroke="#777" stroke-width="1"/>
<line x1="73.50" y1="380.04" x2="76.20" y2="380.04" stroke="#444" stroke-width="1"/>
<line x1="822.00" y1="380.04" x2="818.50" y2="380.04" stroke="#b8b8b8" stroke-width="1"/>
<line x1="73.50" y1="360.75" x2="76.20" y2="360.75" stroke="#444" stroke-width="1"/>
<line x1="822.00" y1="360.75" x2="818.50" y2="360.75" stroke="#b8b8b8" stroke-width="1"/>
<line x1="73.50" y1="341.46" x2="76.20" y2="341.46" stroke="#444" stroke-width="1"/>
<line x1="822.00" y1="341.46" x2="818.50" y2="341.46" stroke="#b8b8b8" stroke-width="1"/>
<line x1="73.50" y1="322.17" x2="77.40" y2="322.17" stroke="#222" stroke-width="1"/>
<line x1="822.00" y1="322.17" x2="817.40" y2="322.17" stroke="#777" stroke-width="1"/>
<line x1="73.50" y1="302.88" x2="76.20" y2="302.88" stroke="#444" stroke-width="1"/>
<line x1="822.00" y1="302.88" x2="818.50" y2="302.88" stroke="#b8b8b8" stroke-width="1"/>
<line x1="73.50" y1="283.58" x2="76.20" y2="283.58" stroke="#444" stroke-width="1"/>
<line x1="822.00" y1="283.58" x2="818.50" y2="283.58" stroke="#b8b8b8" stroke-width="1"/>
<line x1="73.50" y1="264.29" x2="76.20" y2="264.29" stroke="#444" stroke-width="1"/>
<line x1="822.00" y1="264.29" x2="818.50" y2="264.29" stroke="#b8b8b8" stroke-width="1"/>
<line x1="73.50" y1="245.00" x2="77.40" y2="245.00" stroke="#222" stroke-width="1"/>
<line x1="822.00" y1="245.00" x2="817.40" y2="245.00" stroke="#777" stroke-width="1"/>
<line x1="73.50" y1="225.71" x2="76.20" y2="225.71" stroke="#444" stroke-width="1"/>
<line x1="822.00" y1="225.71" x2="818.50" y2="225.71" stroke="#b8b8b8" stroke-width="1"/>
<line x1="73.50" y1="206.42" x2="76.20" y2="206.42" stroke="#444" stroke-width="1"/>
<line x1="822.00" y1="206.42" x2="818.50" y2="206.42" stroke="#b8b8b8" stroke-width="1"/>
<line x1="73.50" y1="187.12" x2="76.20" y2="187.12" stroke="#444" stroke-width="1"/>
<line x1="822.00" y1="187.12" x2="818.50" y2="187.12" stroke="#b8b8b8" stroke-width="1"/>
<line x1="73.50" y1="167.83" x2="77.40" y2="167.83" stroke="#222" stroke-width="1"/>
<line x1="822.00" y1="167.83" x2="817.40" y2="167.83" stroke="#777" stroke-width="1"/>
<line x1="73.50" y1="148.54" x2="76.20" y2="148.54" stroke="#444" stroke-width="1"/>
<line x1="822.00" y1="148.54" x2="818.50" y2="148.54" stroke="#b8b8b8" stroke-width="1"/>
<line x1="73.50" y1="129.25" x2="76.20" y2="129.25" stroke="#444" stroke-width="1"/>
<line x1="822.00" y1="129.25" x2="818.50" y2="129.25" stroke="#b8b8b8" stroke-width="1"/>
<line x1="73.50" y1="109.96" x2="76.20" y2="109.96" stroke="#444" stroke-width="1"/>
<line x1="822.00" y1="109.96" x2="818.50" y2="109.96" stroke="#b8b8b8" stroke-width="1"/>
<line x1="73.50" y1="90.67" x2="77.40" y2="90.67" stroke="#222" stroke-width="1"/>
<line x1="822.00" y1="90.67" x2="817.40" y2="90.67" stroke="#777" stroke-width="1"/>
<line x1="73.50" y1="71.37" x2="76.20" y2="71.37" stroke="#444" stroke-width="1"/>
<line x1="822.00" y1="71.37" x2="818.50" y2="71.37" stroke="#b8b8b8" stroke-width="1"/>
<line x1="73.50" y1="52.08" x2="76.20" y2="52.08" stroke="#444" stroke-width="1"/>
<line x1="822.00" y1="52.08" x2="818.50" y2="52.08" stroke="#b8b8b8" stroke-width="1"/>
<line x1="73.50" y1="32.79" x2="76.20" y2="32.79" stroke="#444" stroke-width="1"/>
<line x1="822.00" y1="32.79" x2="818.50" y2="32.79" stroke="#b8b8b8" stroke-width="1"/>
<line x1="73.50" y1="13.50" x2="77.40" y2="13.50" stroke="#222" stroke-width="1"/>
<line x1="822.00" y1="13.50" x2="817.40" y2="13.50" stroke="#777" stroke-width="1"/>
<text transform="translate(66.73,500.8) scale(1.0335,1)" font-size="23.2">0</text>
<text transform="translate(216.43,500.8) scale(1.0335,1)" font-size="23.2">1</text>
<text transform="translate(366.13,500.8) scale(1.0335,1)" font-size="23.2">2</text>
<text transform="translate(515.83,500.8) scale(1.0335,1)" font-size="23.2">3</text>
<text transform="translate(665.53,500.8) scale(1.0335,1)" font-size="23.2">4</text>
<text transform="translate(815.23,500.8) scale(1.0335,1)" font-size="23.2">5</text>
<text transform="translate(37.07,484.60) scale(1.0335,1)" font-size="23.2">0.0</text>
<text transform="translate(37.07,407.43) scale(1.0335,1)" font-size="23.2">0.2</text>
<text transform="translate(37.07,330.27) scale(1.0335,1)" font-size="23.2">0.4</text>
<text transform="translate(37.07,253.10) scale(1.0335,1)" font-size="23.2">0.6</text>
<text transform="translate(37.07,175.93) scale(1.0335,1)" font-size="23.2">0.8</text>
<text transform="translate(37.07,98.77) scale(1.0335,1)" font-size="23.2">1.0</text>
<text transform="translate(37.07,21.60) scale(1.0335,1)" font-size="23.2">1.2</text>
<text transform="translate(430.72,532.90) scale(1.0282,1)" font-size="23.2">r/M</text>
<g transform="translate(25.5,0) rotate(-90)">
<text transform="translate(-314.17,0.00) scale(0.9395,1)" font-size="23.5" font-style="italic">κ</text>
<text transform="translate(-300.76,0.00) scale(0.8805,1)" font-size="23.5">T</text>
<text transform="translate(-289.62,-11.40) scale(1.1565,1)" font-size="18.001" stroke-width="0.12">tt</text>
<text transform="translate(-267.22,0.00) scale(1.0219,1)" font-size="23.5">and</text>
<text transform="translate(-218.00,0.00) scale(0.8424,1)" font-size="23.5">–</text>
<text transform="translate(-205.02,0.00) scale(0.8814,1)" font-size="23.5" font-style="italic">G</text>
<text transform="translate(-186.30,-11.60) scale(1.0940,1)" font-size="18.001" stroke-width="0.12">tt</text>
</g>
<line x1="578.7" y1="124.40" x2="615" y2="124.40" stroke="#ff0000" stroke-width="1.4"/>
<text transform="translate(626.90,131.20) scale(0.8439,1)" font-size="21.2" font-style="italic">κ</text>
<text transform="translate(637.56,131.20) scale(0.9177,1)" font-size="21.2">T</text>
<text transform="translate(650.14,123.00) scale(1.0394,1)" font-size="16.2392" stroke-width="0.12">tt</text>
<text transform="translate(660.95,133.00) scale(1.0097,1)" font-size="21.2">=</text>
<text transform="translate(675.00,132.30) scale(0.7640,1)" font-size="21.2">–</text>
<text transform="translate(685.03,131.20) scale(0.9289,1)" font-size="21.2" font-style="italic">G</text>
<text transform="translate(702.53,123.00) scale(1.0856,1)" font-size="16.2392" stroke-width="0.12">tt</text>
<text transform="translate(713.72,131.20) scale(1.2500,1)" font-size="21.2" stroke-width="0.1">,</text>
<text transform="translate(727.21,131.20) scale(0.8724,1)" font-size="21.2">a</text>
<text transform="translate(737.89,133.00) scale(1.0680,1)" font-size="21.2">=</text>
<text transform="translate(751.12,131.20) scale(1.0657,1)" font-size="21.2">0</text>
<line x1="578.7" y1="165.00" x2="615" y2="165.00" stroke="#14a900" stroke-width="1.4"/>
<text transform="translate(626.90,171.80) scale(0.8439,1)" font-size="21.2" font-style="italic">κ</text>
<text transform="translate(637.56,171.80) scale(0.9177,1)" font-size="21.2">T</text>
<text transform="translate(650.14,163.60) scale(1.0394,1)" font-size="16.2392" stroke-width="0.12">tt</text>
<text transform="translate(661.32,171.80) scale(1.2500,1)" font-size="21.2" stroke-width="0.1">,</text>
<text transform="translate(674.71,171.80) scale(0.8724,1)" font-size="21.2">a</text>
<text transform="translate(686.18,173.60) scale(0.9806,1)" font-size="21.2">=</text>
<text transform="translate(699.13,171.80) scale(1.0505,1)" font-size="21.2">0.25M</text>
<line x1="578.7" y1="205.60" x2="615" y2="205.60" stroke="#0a0aff" stroke-width="1.4"/>
<text transform="translate(626.90,212.40) scale(0.8439,1)" font-size="21.2" font-style="italic">κ</text>
<text transform="translate(637.56,212.40) scale(0.9177,1)" font-size="21.2">T</text>
<text transform="translate(650.14,204.20) scale(1.0394,1)" font-size="16.2392" stroke-width="0.12">tt</text>
<text transform="translate(661.32,212.40) scale(1.2500,1)" font-size="21.2" stroke-width="0.1">,</text>
<text transform="translate(674.71,212.40) scale(0.8724,1)" font-size="21.2">a</text>
<text transform="translate(686.18,214.20) scale(0.9806,1)" font-size="21.2">=</text>
<text transform="translate(699.13,212.40) scale(1.0505,1)" font-size="21.2">0.50M</text>
<line x1="578.7" y1="246.20" x2="615" y2="246.20" stroke="#ff8000" stroke-width="1.4"/>
<text transform="translate(626.90,253.00) scale(0.8439,1)" font-size="21.2" font-style="italic">κ</text>
<text transform="translate(637.56,253.00) scale(0.9177,1)" font-size="21.2">T</text>
<text transform="translate(650.14,244.80) scale(1.0394,1)" font-size="16.2392" stroke-width="0.12">tt</text>
<text transform="translate(661.32,253.00) scale(1.2500,1)" font-size="21.2" stroke-width="0.1">,</text>
<text transform="translate(674.71,253.00) scale(0.8724,1)" font-size="21.2">a</text>
<text transform="translate(686.18,254.80) scale(0.9806,1)" font-size="21.2">=</text>
<text transform="translate(699.13,253.00) scale(1.0505,1)" font-size="21.2">0.75M</text>
<line x1="578.7" y1="286.80" x2="615" y2="286.80" stroke="#14a900" stroke-width="1.4" stroke-dasharray="6.6 3.6"/>
<text transform="translate(626.90,294.70) scale(0.7640,1)" font-size="21.2">–</text>
<text transform="translate(636.98,293.60) scale(0.9770,1)" font-size="21.2" font-style="italic">G</text>
<text transform="translate(654.43,285.40) scale(1.1087,1)" font-size="16.2392" stroke-width="0.12">tt</text>
<text transform="translate(666.02,293.60) scale(1.2500,1)" font-size="21.2" stroke-width="0.1">,</text>
<text transform="translate(679.71,293.60) scale(0.8724,1)" font-size="21.2">a</text>
<text transform="translate(691.31,295.40) scale(0.9612,1)" font-size="21.2">=</text>
<text transform="translate(704.14,293.60) scale(1.0416,1)" font-size="21.2">0.25M</text>
<line x1="578.7" y1="327.40" x2="615" y2="327.40" stroke="#0a0aff" stroke-width="1.4" stroke-dasharray="6.6 3.6"/>
<text transform="translate(626.90,335.30) scale(0.7640,1)" font-size="21.2">–</text>
<text transform="translate(636.98,334.20) scale(0.9770,1)" font-size="21.2" font-style="italic">G</text>
<text transform="translate(654.43,326.00) scale(1.1087,1)" font-size="16.2392" stroke-width="0.12">tt</text>
<text transform="translate(666.02,334.20) scale(1.2500,1)" font-size="21.2" stroke-width="0.1">,</text>
<text transform="translate(679.71,334.20) scale(0.8724,1)" font-size="21.2">a</text>
<text transform="translate(691.31,336.00) scale(0.9612,1)" font-size="21.2">=</text>
<text transform="translate(704.14,334.20) scale(1.0416,1)" font-size="21.2">0.50M</text>
<line x1="578.7" y1="368.00" x2="615" y2="368.00" stroke="#ff8000" stroke-width="1.4" stroke-dasharray="6.6 3.6"/>
<text transform="translate(626.90,375.90) scale(0.7640,1)" font-size="21.2">–</text>
<text transform="translate(636.98,374.80) scale(0.9770,1)" font-size="21.2" font-style="italic">G</text>
<text transform="translate(654.43,366.60) scale(1.1087,1)" font-size="16.2392" stroke-width="0.12">tt</text>
<text transform="translate(666.02,374.80) scale(1.2500,1)" font-size="21.2" stroke-width="0.1">,</text>
<text transform="translate(679.71,374.80) scale(0.8724,1)" font-size="21.2">a</text>
<text transform="translate(691.31,376.60) scale(0.9612,1)" font-size="21.2">=</text>
<text transform="translate(704.14,374.80) scale(1.0416,1)" font-size="21.2">0.75M</text>
</svg></body></html>
